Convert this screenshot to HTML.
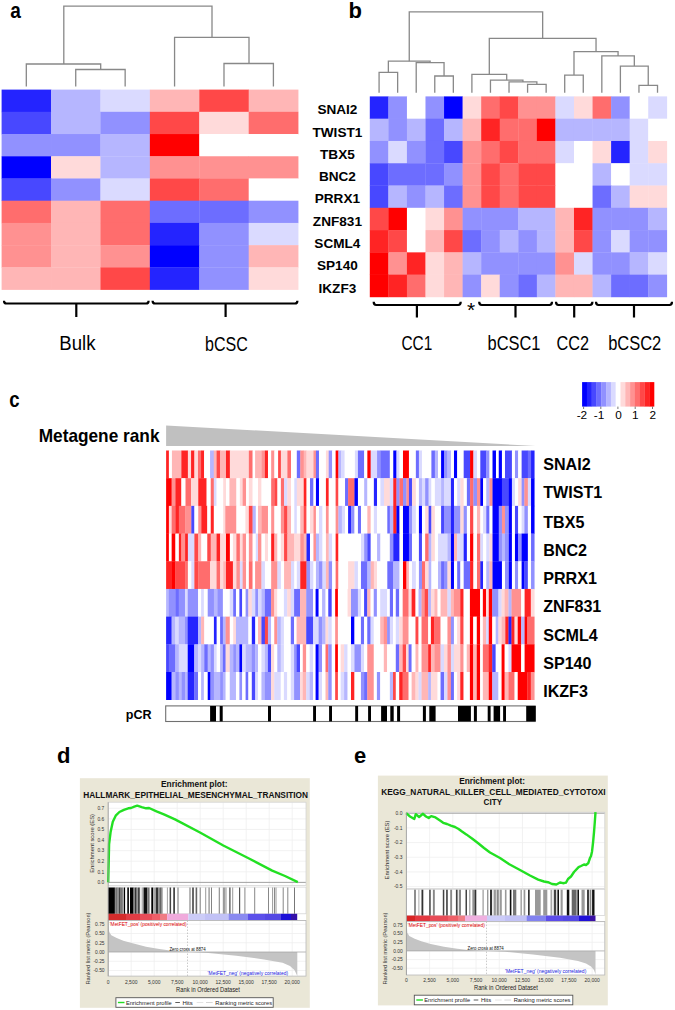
<!DOCTYPE html>
<html><head><meta charset="utf-8"><title>Figure</title>
<style>html,body{margin:0;padding:0;background:#fff;}body{width:675px;height:1010px;overflow:hidden;}svg{display:block;}</style>
</head><body>
<svg width="675" height="1010" viewBox="0 0 675 1010" shape-rendering="auto">
<rect x="0" y="0" width="675" height="1010" fill="#fff"/>
<text x="10.3" y="17.5" font-family="Liberation Sans, sans-serif" font-size="22" font-weight="bold" text-anchor="start" fill="#000" textLength="10.6" lengthAdjust="spacingAndGlyphs">a</text>
<text x="348.6" y="17.6" font-family="Liberation Sans, sans-serif" font-size="22" font-weight="bold" text-anchor="start" fill="#000">b</text>
<text x="9.3" y="406.6" font-family="Liberation Sans, sans-serif" font-size="22" font-weight="bold" text-anchor="start" fill="#000" textLength="10.3" lengthAdjust="spacingAndGlyphs">c</text>
<text x="57" y="763.1" font-family="Liberation Sans, sans-serif" font-size="22" font-weight="bold" text-anchor="start" fill="#000">d</text>
<text x="354" y="762.8" font-family="Liberation Sans, sans-serif" font-size="22" font-weight="bold" text-anchor="start" fill="#000">e</text>
<rect x="1.6" y="89.6" width="49.72" height="22.52" fill="#2424ff"/>
<rect x="51.02" y="89.6" width="49.72" height="22.52" fill="#b6b6ff"/>
<rect x="100.44" y="89.6" width="49.72" height="22.52" fill="#dadaff"/>
<rect x="149.86" y="89.6" width="49.72" height="22.52" fill="#ffb6b6"/>
<rect x="199.28" y="89.6" width="49.72" height="22.52" fill="#ff4848"/>
<rect x="248.7" y="89.6" width="49.72" height="22.52" fill="#ffb6b6"/>
<rect x="1.6" y="111.82" width="49.72" height="22.52" fill="#4848ff"/>
<rect x="51.02" y="111.82" width="49.72" height="22.52" fill="#b6b6ff"/>
<rect x="100.44" y="111.82" width="49.72" height="22.52" fill="#9191ff"/>
<rect x="149.86" y="111.82" width="49.72" height="22.52" fill="#ff4848"/>
<rect x="199.28" y="111.82" width="49.72" height="22.52" fill="#ffdada"/>
<rect x="248.7" y="111.82" width="49.72" height="22.52" fill="#ff6d6d"/>
<rect x="1.6" y="134.04" width="49.72" height="22.52" fill="#9191ff"/>
<rect x="51.02" y="134.04" width="49.72" height="22.52" fill="#9191ff"/>
<rect x="100.44" y="134.04" width="49.72" height="22.52" fill="#b6b6ff"/>
<rect x="149.86" y="134.04" width="49.72" height="22.52" fill="#ff0000"/>
<rect x="199.28" y="134.04" width="49.72" height="22.52" fill="#ffffff"/>
<rect x="248.7" y="134.04" width="49.72" height="22.52" fill="#ffffff"/>
<rect x="1.6" y="156.26" width="49.72" height="22.52" fill="#0000ff"/>
<rect x="51.02" y="156.26" width="49.72" height="22.52" fill="#ffdada"/>
<rect x="100.44" y="156.26" width="49.72" height="22.52" fill="#b6b6ff"/>
<rect x="149.86" y="156.26" width="49.72" height="22.52" fill="#ff9191"/>
<rect x="199.28" y="156.26" width="49.72" height="22.52" fill="#ff9191"/>
<rect x="248.7" y="156.26" width="49.72" height="22.52" fill="#ff9191"/>
<rect x="1.6" y="178.48" width="49.72" height="22.52" fill="#4848ff"/>
<rect x="51.02" y="178.48" width="49.72" height="22.52" fill="#9191ff"/>
<rect x="100.44" y="178.48" width="49.72" height="22.52" fill="#dadaff"/>
<rect x="149.86" y="178.48" width="49.72" height="22.52" fill="#ff4848"/>
<rect x="199.28" y="178.48" width="49.72" height="22.52" fill="#ff6d6d"/>
<rect x="248.7" y="178.48" width="49.72" height="22.52" fill="#ffffff"/>
<rect x="1.6" y="200.7" width="49.72" height="22.52" fill="#ff6d6d"/>
<rect x="51.02" y="200.7" width="49.72" height="22.52" fill="#ffb6b6"/>
<rect x="100.44" y="200.7" width="49.72" height="22.52" fill="#ff6d6d"/>
<rect x="149.86" y="200.7" width="49.72" height="22.52" fill="#6d6dff"/>
<rect x="199.28" y="200.7" width="49.72" height="22.52" fill="#6d6dff"/>
<rect x="248.7" y="200.7" width="49.72" height="22.52" fill="#9191ff"/>
<rect x="1.6" y="222.92" width="49.72" height="22.52" fill="#ff9191"/>
<rect x="51.02" y="222.92" width="49.72" height="22.52" fill="#ffb6b6"/>
<rect x="100.44" y="222.92" width="49.72" height="22.52" fill="#ff6d6d"/>
<rect x="149.86" y="222.92" width="49.72" height="22.52" fill="#2424ff"/>
<rect x="199.28" y="222.92" width="49.72" height="22.52" fill="#9191ff"/>
<rect x="248.7" y="222.92" width="49.72" height="22.52" fill="#dadaff"/>
<rect x="1.6" y="245.14" width="49.72" height="22.52" fill="#ff9191"/>
<rect x="51.02" y="245.14" width="49.72" height="22.52" fill="#ffb6b6"/>
<rect x="100.44" y="245.14" width="49.72" height="22.52" fill="#ff9191"/>
<rect x="149.86" y="245.14" width="49.72" height="22.52" fill="#0000ff"/>
<rect x="199.28" y="245.14" width="49.72" height="22.52" fill="#9191ff"/>
<rect x="248.7" y="245.14" width="49.72" height="22.52" fill="#ffb6b6"/>
<rect x="1.6" y="267.36" width="49.72" height="22.52" fill="#ffb6b6"/>
<rect x="51.02" y="267.36" width="49.72" height="22.52" fill="#ffb6b6"/>
<rect x="100.44" y="267.36" width="49.72" height="22.52" fill="#ff4848"/>
<rect x="149.86" y="267.36" width="49.72" height="22.52" fill="#2424ff"/>
<rect x="199.28" y="267.36" width="49.72" height="22.52" fill="#9191ff"/>
<rect x="248.7" y="267.36" width="49.72" height="22.52" fill="#ffdada"/>
<polyline points="26.31,86.5 26.31,64 100.7,64 100.7,69.5" fill="none" stroke="#888888" stroke-width="1.3"/>
<polyline points="75.73,86.5 75.73,69.5 125.15,69.5 125.15,86.5" fill="none" stroke="#888888" stroke-width="1.3"/>
<polyline points="63.8,64 63.8,6.1 212,6.1 212,37.3" fill="none" stroke="#888888" stroke-width="1.3"/>
<polyline points="174.57,86.5 174.57,37.3 249,37.3 249,63.5" fill="none" stroke="#888888" stroke-width="1.3"/>
<polyline points="223.99,86.5 223.99,63.5 273.41,63.5 273.41,86.5" fill="none" stroke="#888888" stroke-width="1.3"/>
<path d="M4 300.7 Q4 303.5 6.5 303.5 L146.1 303.5 Q148.6 303.5 148.6 300.7 M76.3 303.5 L76.3 317" fill="none" stroke="#000" stroke-width="2.2"/>
<path d="M152.6 300.7 Q152.6 303.5 155.1 303.5 L294.9 303.5 Q297.4 303.5 297.4 300.7 M225.6 303.5 L225.6 317" fill="none" stroke="#000" stroke-width="2.2"/>
<text x="59.3" y="350.4" font-family="Liberation Sans, sans-serif" font-size="19.5" font-weight="normal" text-anchor="start" fill="#000" textLength="36.2" lengthAdjust="spacingAndGlyphs">Bulk</text>
<text x="205" y="350.5" font-family="Liberation Sans, sans-serif" font-size="19.5" font-weight="normal" text-anchor="start" fill="#000" textLength="42.8" lengthAdjust="spacingAndGlyphs">bCSC</text>
<rect x="369.8" y="96.4" width="18.86" height="22.58" fill="#2424ff"/>
<rect x="388.36" y="96.4" width="18.86" height="22.58" fill="#9191ff"/>
<rect x="406.93" y="96.4" width="18.86" height="22.58" fill="#ffffff"/>
<rect x="425.49" y="96.4" width="18.86" height="22.58" fill="#9191ff"/>
<rect x="444.05" y="96.4" width="18.86" height="22.58" fill="#0000ff"/>
<rect x="462.61" y="96.4" width="18.86" height="22.58" fill="#ffdada"/>
<rect x="481.18" y="96.4" width="18.86" height="22.58" fill="#ff6d6d"/>
<rect x="499.74" y="96.4" width="18.86" height="22.58" fill="#ff4848"/>
<rect x="518.3" y="96.4" width="18.86" height="22.58" fill="#ff9191"/>
<rect x="536.86" y="96.4" width="18.86" height="22.58" fill="#ff9191"/>
<rect x="555.42" y="96.4" width="18.86" height="22.58" fill="#dadaff"/>
<rect x="573.99" y="96.4" width="18.86" height="22.58" fill="#ffdada"/>
<rect x="592.55" y="96.4" width="18.86" height="22.58" fill="#ff6d6d"/>
<rect x="611.11" y="96.4" width="18.86" height="22.58" fill="#9191ff"/>
<rect x="629.67" y="96.4" width="18.86" height="22.58" fill="#ffffff"/>
<rect x="648.24" y="96.4" width="18.86" height="22.58" fill="#dadaff"/>
<rect x="369.8" y="118.68" width="18.86" height="22.58" fill="#b6b6ff"/>
<rect x="388.36" y="118.68" width="18.86" height="22.58" fill="#9191ff"/>
<rect x="406.93" y="118.68" width="18.86" height="22.58" fill="#b6b6ff"/>
<rect x="425.49" y="118.68" width="18.86" height="22.58" fill="#6d6dff"/>
<rect x="444.05" y="118.68" width="18.86" height="22.58" fill="#b6b6ff"/>
<rect x="462.61" y="118.68" width="18.86" height="22.58" fill="#ffb6b6"/>
<rect x="481.18" y="118.68" width="18.86" height="22.58" fill="#ff2424"/>
<rect x="499.74" y="118.68" width="18.86" height="22.58" fill="#ff6d6d"/>
<rect x="518.3" y="118.68" width="18.86" height="22.58" fill="#ff6d6d"/>
<rect x="536.86" y="118.68" width="18.86" height="22.58" fill="#ff0000"/>
<rect x="555.42" y="118.68" width="18.86" height="22.58" fill="#b6b6ff"/>
<rect x="573.99" y="118.68" width="18.86" height="22.58" fill="#b6b6ff"/>
<rect x="592.55" y="118.68" width="18.86" height="22.58" fill="#b6b6ff"/>
<rect x="611.11" y="118.68" width="18.86" height="22.58" fill="#b6b6ff"/>
<rect x="629.67" y="118.68" width="18.86" height="22.58" fill="#dadaff"/>
<rect x="648.24" y="118.68" width="18.86" height="22.58" fill="#ffffff"/>
<rect x="369.8" y="140.96" width="18.86" height="22.58" fill="#9191ff"/>
<rect x="388.36" y="140.96" width="18.86" height="22.58" fill="#dadaff"/>
<rect x="406.93" y="140.96" width="18.86" height="22.58" fill="#9191ff"/>
<rect x="425.49" y="140.96" width="18.86" height="22.58" fill="#6d6dff"/>
<rect x="444.05" y="140.96" width="18.86" height="22.58" fill="#4848ff"/>
<rect x="462.61" y="140.96" width="18.86" height="22.58" fill="#ff9191"/>
<rect x="481.18" y="140.96" width="18.86" height="22.58" fill="#ff6d6d"/>
<rect x="499.74" y="140.96" width="18.86" height="22.58" fill="#ff4848"/>
<rect x="518.3" y="140.96" width="18.86" height="22.58" fill="#ff6d6d"/>
<rect x="536.86" y="140.96" width="18.86" height="22.58" fill="#ff6d6d"/>
<rect x="555.42" y="140.96" width="18.86" height="22.58" fill="#dadaff"/>
<rect x="573.99" y="140.96" width="18.86" height="22.58" fill="#ffffff"/>
<rect x="592.55" y="140.96" width="18.86" height="22.58" fill="#ffdada"/>
<rect x="611.11" y="140.96" width="18.86" height="22.58" fill="#2424ff"/>
<rect x="629.67" y="140.96" width="18.86" height="22.58" fill="#dadaff"/>
<rect x="648.24" y="140.96" width="18.86" height="22.58" fill="#ffdada"/>
<rect x="369.8" y="163.24" width="18.86" height="22.58" fill="#4848ff"/>
<rect x="388.36" y="163.24" width="18.86" height="22.58" fill="#6d6dff"/>
<rect x="406.93" y="163.24" width="18.86" height="22.58" fill="#6d6dff"/>
<rect x="425.49" y="163.24" width="18.86" height="22.58" fill="#6d6dff"/>
<rect x="444.05" y="163.24" width="18.86" height="22.58" fill="#9191ff"/>
<rect x="462.61" y="163.24" width="18.86" height="22.58" fill="#ff9191"/>
<rect x="481.18" y="163.24" width="18.86" height="22.58" fill="#ff4848"/>
<rect x="499.74" y="163.24" width="18.86" height="22.58" fill="#ff6d6d"/>
<rect x="518.3" y="163.24" width="18.86" height="22.58" fill="#ff4848"/>
<rect x="536.86" y="163.24" width="18.86" height="22.58" fill="#ff4848"/>
<rect x="555.42" y="163.24" width="18.86" height="22.58" fill="#ffffff"/>
<rect x="573.99" y="163.24" width="18.86" height="22.58" fill="#ffffff"/>
<rect x="592.55" y="163.24" width="18.86" height="22.58" fill="#b6b6ff"/>
<rect x="611.11" y="163.24" width="18.86" height="22.58" fill="#ffffff"/>
<rect x="629.67" y="163.24" width="18.86" height="22.58" fill="#dadaff"/>
<rect x="648.24" y="163.24" width="18.86" height="22.58" fill="#dadaff"/>
<rect x="369.8" y="185.52" width="18.86" height="22.58" fill="#4848ff"/>
<rect x="388.36" y="185.52" width="18.86" height="22.58" fill="#b6b6ff"/>
<rect x="406.93" y="185.52" width="18.86" height="22.58" fill="#9191ff"/>
<rect x="425.49" y="185.52" width="18.86" height="22.58" fill="#b6b6ff"/>
<rect x="444.05" y="185.52" width="18.86" height="22.58" fill="#6d6dff"/>
<rect x="462.61" y="185.52" width="18.86" height="22.58" fill="#ff9191"/>
<rect x="481.18" y="185.52" width="18.86" height="22.58" fill="#ff4848"/>
<rect x="499.74" y="185.52" width="18.86" height="22.58" fill="#ff6d6d"/>
<rect x="518.3" y="185.52" width="18.86" height="22.58" fill="#ff4848"/>
<rect x="536.86" y="185.52" width="18.86" height="22.58" fill="#ff4848"/>
<rect x="555.42" y="185.52" width="18.86" height="22.58" fill="#ffffff"/>
<rect x="573.99" y="185.52" width="18.86" height="22.58" fill="#ffffff"/>
<rect x="592.55" y="185.52" width="18.86" height="22.58" fill="#6d6dff"/>
<rect x="611.11" y="185.52" width="18.86" height="22.58" fill="#b6b6ff"/>
<rect x="629.67" y="185.52" width="18.86" height="22.58" fill="#ffdada"/>
<rect x="648.24" y="185.52" width="18.86" height="22.58" fill="#ffdada"/>
<rect x="369.8" y="207.8" width="18.86" height="22.58" fill="#ff4848"/>
<rect x="388.36" y="207.8" width="18.86" height="22.58" fill="#ff0000"/>
<rect x="406.93" y="207.8" width="18.86" height="22.58" fill="#ffffff"/>
<rect x="425.49" y="207.8" width="18.86" height="22.58" fill="#ffdada"/>
<rect x="444.05" y="207.8" width="18.86" height="22.58" fill="#ff9191"/>
<rect x="462.61" y="207.8" width="18.86" height="22.58" fill="#9191ff"/>
<rect x="481.18" y="207.8" width="18.86" height="22.58" fill="#9191ff"/>
<rect x="499.74" y="207.8" width="18.86" height="22.58" fill="#9191ff"/>
<rect x="518.3" y="207.8" width="18.86" height="22.58" fill="#b6b6ff"/>
<rect x="536.86" y="207.8" width="18.86" height="22.58" fill="#b6b6ff"/>
<rect x="555.42" y="207.8" width="18.86" height="22.58" fill="#ffb6b6"/>
<rect x="573.99" y="207.8" width="18.86" height="22.58" fill="#ff2424"/>
<rect x="592.55" y="207.8" width="18.86" height="22.58" fill="#9191ff"/>
<rect x="611.11" y="207.8" width="18.86" height="22.58" fill="#9191ff"/>
<rect x="629.67" y="207.8" width="18.86" height="22.58" fill="#9191ff"/>
<rect x="648.24" y="207.8" width="18.86" height="22.58" fill="#b6b6ff"/>
<rect x="369.8" y="230.08" width="18.86" height="22.58" fill="#ff2424"/>
<rect x="388.36" y="230.08" width="18.86" height="22.58" fill="#ff4848"/>
<rect x="406.93" y="230.08" width="18.86" height="22.58" fill="#ffffff"/>
<rect x="425.49" y="230.08" width="18.86" height="22.58" fill="#ffb6b6"/>
<rect x="444.05" y="230.08" width="18.86" height="22.58" fill="#ff4848"/>
<rect x="462.61" y="230.08" width="18.86" height="22.58" fill="#6d6dff"/>
<rect x="481.18" y="230.08" width="18.86" height="22.58" fill="#9191ff"/>
<rect x="499.74" y="230.08" width="18.86" height="22.58" fill="#b6b6ff"/>
<rect x="518.3" y="230.08" width="18.86" height="22.58" fill="#9191ff"/>
<rect x="536.86" y="230.08" width="18.86" height="22.58" fill="#b6b6ff"/>
<rect x="555.42" y="230.08" width="18.86" height="22.58" fill="#ffb6b6"/>
<rect x="573.99" y="230.08" width="18.86" height="22.58" fill="#ff4848"/>
<rect x="592.55" y="230.08" width="18.86" height="22.58" fill="#9191ff"/>
<rect x="611.11" y="230.08" width="18.86" height="22.58" fill="#dadaff"/>
<rect x="629.67" y="230.08" width="18.86" height="22.58" fill="#9191ff"/>
<rect x="648.24" y="230.08" width="18.86" height="22.58" fill="#9191ff"/>
<rect x="369.8" y="252.36" width="18.86" height="22.58" fill="#ff0000"/>
<rect x="388.36" y="252.36" width="18.86" height="22.58" fill="#ff9191"/>
<rect x="406.93" y="252.36" width="18.86" height="22.58" fill="#ff2424"/>
<rect x="425.49" y="252.36" width="18.86" height="22.58" fill="#ffdada"/>
<rect x="444.05" y="252.36" width="18.86" height="22.58" fill="#ffb6b6"/>
<rect x="462.61" y="252.36" width="18.86" height="22.58" fill="#b6b6ff"/>
<rect x="481.18" y="252.36" width="18.86" height="22.58" fill="#9191ff"/>
<rect x="499.74" y="252.36" width="18.86" height="22.58" fill="#9191ff"/>
<rect x="518.3" y="252.36" width="18.86" height="22.58" fill="#9191ff"/>
<rect x="536.86" y="252.36" width="18.86" height="22.58" fill="#9191ff"/>
<rect x="555.42" y="252.36" width="18.86" height="22.58" fill="#ff9191"/>
<rect x="573.99" y="252.36" width="18.86" height="22.58" fill="#dadaff"/>
<rect x="592.55" y="252.36" width="18.86" height="22.58" fill="#9191ff"/>
<rect x="611.11" y="252.36" width="18.86" height="22.58" fill="#9191ff"/>
<rect x="629.67" y="252.36" width="18.86" height="22.58" fill="#b6b6ff"/>
<rect x="648.24" y="252.36" width="18.86" height="22.58" fill="#dadaff"/>
<rect x="369.8" y="274.64" width="18.86" height="22.58" fill="#ff0000"/>
<rect x="388.36" y="274.64" width="18.86" height="22.58" fill="#ff2424"/>
<rect x="406.93" y="274.64" width="18.86" height="22.58" fill="#ff6d6d"/>
<rect x="425.49" y="274.64" width="18.86" height="22.58" fill="#ffdada"/>
<rect x="444.05" y="274.64" width="18.86" height="22.58" fill="#ffb6b6"/>
<rect x="462.61" y="274.64" width="18.86" height="22.58" fill="#9191ff"/>
<rect x="481.18" y="274.64" width="18.86" height="22.58" fill="#ffdada"/>
<rect x="499.74" y="274.64" width="18.86" height="22.58" fill="#9191ff"/>
<rect x="518.3" y="274.64" width="18.86" height="22.58" fill="#6d6dff"/>
<rect x="536.86" y="274.64" width="18.86" height="22.58" fill="#b6b6ff"/>
<rect x="555.42" y="274.64" width="18.86" height="22.58" fill="#ffb6b6"/>
<rect x="573.99" y="274.64" width="18.86" height="22.58" fill="#ffb6b6"/>
<rect x="592.55" y="274.64" width="18.86" height="22.58" fill="#b6b6ff"/>
<rect x="611.11" y="274.64" width="18.86" height="22.58" fill="#6d6dff"/>
<rect x="629.67" y="274.64" width="18.86" height="22.58" fill="#6d6dff"/>
<rect x="648.24" y="274.64" width="18.86" height="22.58" fill="#9191ff"/>
<polyline points="379.08,92.7 379.08,72.3 397.64,72.3 397.64,92.7" fill="none" stroke="#888888" stroke-width="1.3"/>
<polyline points="434.77,92.7 434.77,76 453.33,76 453.33,92.7" fill="none" stroke="#888888" stroke-width="1.3"/>
<polyline points="416.21,92.7 416.21,62.7 444.05,62.7 444.05,76" fill="none" stroke="#888888" stroke-width="1.3"/>
<polyline points="388.36,72.3 388.36,61.2 430.13,61.2 430.13,62.7" fill="none" stroke="#888888" stroke-width="1.3"/>
<polyline points="527.58,92.7 527.58,84.4 546.14,84.4 546.14,92.7" fill="none" stroke="#888888" stroke-width="1.3"/>
<polyline points="509.02,92.7 509.02,81.9 536.86,81.9 536.86,84.4" fill="none" stroke="#888888" stroke-width="1.3"/>
<polyline points="490.46,92.7 490.46,80.1 522.94,80.1 522.94,81.9" fill="none" stroke="#888888" stroke-width="1.3"/>
<polyline points="471.89,92.7 471.89,74.3 506.7,74.3 506.7,80.1" fill="none" stroke="#888888" stroke-width="1.3"/>
<polyline points="564.71,92.7 564.71,75.1 583.27,75.1 583.27,92.7" fill="none" stroke="#888888" stroke-width="1.3"/>
<polyline points="638.96,92.7 638.96,85.4 657.52,85.4 657.52,92.7" fill="none" stroke="#888888" stroke-width="1.3"/>
<polyline points="620.39,92.7 620.39,66.1 648.24,66.1 648.24,85.4" fill="none" stroke="#888888" stroke-width="1.3"/>
<polyline points="601.83,92.7 601.83,55.9 634.32,55.9 634.32,66.1" fill="none" stroke="#888888" stroke-width="1.3"/>
<polyline points="573.99,75.1 573.99,51.6 618.07,51.6 618.07,55.9" fill="none" stroke="#888888" stroke-width="1.3"/>
<polyline points="489.3,74.3 489.3,38.3 596.03,38.3 596.03,51.6" fill="none" stroke="#888888" stroke-width="1.3"/>
<polyline points="409.25,61.2 409.25,11.8 542.66,11.8 542.66,38.3" fill="none" stroke="#888888" stroke-width="1.3"/>
<text x="337.4" y="114.3" font-family="Liberation Sans, sans-serif" font-size="13.6" font-weight="bold" text-anchor="middle" fill="#000">SNAI2</text>
<text x="337.4" y="136.58" font-family="Liberation Sans, sans-serif" font-size="13.6" font-weight="bold" text-anchor="middle" fill="#000">TWIST1</text>
<text x="337.4" y="158.86" font-family="Liberation Sans, sans-serif" font-size="13.6" font-weight="bold" text-anchor="middle" fill="#000">TBX5</text>
<text x="337.4" y="181.14" font-family="Liberation Sans, sans-serif" font-size="13.6" font-weight="bold" text-anchor="middle" fill="#000">BNC2</text>
<text x="337.4" y="203.42" font-family="Liberation Sans, sans-serif" font-size="13.6" font-weight="bold" text-anchor="middle" fill="#000">PRRX1</text>
<text x="337.4" y="225.7" font-family="Liberation Sans, sans-serif" font-size="13.6" font-weight="bold" text-anchor="middle" fill="#000">ZNF831</text>
<text x="337.4" y="247.98" font-family="Liberation Sans, sans-serif" font-size="13.6" font-weight="bold" text-anchor="middle" fill="#000">SCML4</text>
<text x="337.4" y="270.26" font-family="Liberation Sans, sans-serif" font-size="13.6" font-weight="bold" text-anchor="middle" fill="#000">SP140</text>
<text x="337.4" y="292.54" font-family="Liberation Sans, sans-serif" font-size="13.6" font-weight="bold" text-anchor="middle" fill="#000">IKZF3</text>
<path d="M373.7 301.8 Q373.7 305 376.2 305 L458.2 305 Q460.7 305 460.7 301.8 M416.9 305 L416.9 317.5" fill="none" stroke="#000" stroke-width="2.2"/>
<path d="M479.2 301.8 Q479.2 305 481.7 305 L549.5 305 Q552 305 552 301.8 M515.5 305 L515.5 317.5" fill="none" stroke="#000" stroke-width="2.2"/>
<path d="M556 301.8 Q556 305 558.5 305 L589.9 305 Q592.4 305 592.4 301.8 M574.2 305 L574.2 317.5" fill="none" stroke="#000" stroke-width="2.2"/>
<path d="M596 301.8 Q596 305 598.5 305 L669.5 305 Q672 305 672 301.8 M634 305 L634 317.5" fill="none" stroke="#000" stroke-width="2.2"/>
<text x="467" y="316.6" font-family="Liberation Sans, sans-serif" font-size="21" font-weight="normal" text-anchor="start" fill="#000">*</text>
<text x="401.5" y="350" font-family="Liberation Sans, sans-serif" font-size="19.5" font-weight="normal" text-anchor="start" fill="#000" textLength="30.8" lengthAdjust="spacingAndGlyphs">CC1</text>
<text x="487.6" y="349.6" font-family="Liberation Sans, sans-serif" font-size="19.5" font-weight="normal" text-anchor="start" fill="#000" textLength="52.9" lengthAdjust="spacingAndGlyphs">bCSC1</text>
<text x="556.5" y="349.6" font-family="Liberation Sans, sans-serif" font-size="19.5" font-weight="normal" text-anchor="start" fill="#000" textLength="32.5" lengthAdjust="spacingAndGlyphs">CC2</text>
<text x="608.2" y="349.6" font-family="Liberation Sans, sans-serif" font-size="19.5" font-weight="normal" text-anchor="start" fill="#000" textLength="53.1" lengthAdjust="spacingAndGlyphs">bCSC2</text>
<rect x="582.1" y="382.1" width="5" height="24.5" fill="#0000ff"/>
<rect x="586.9" y="382.1" width="5" height="24.5" fill="#2424ff"/>
<rect x="591.7" y="382.1" width="5" height="24.5" fill="#4848ff"/>
<rect x="596.5" y="382.1" width="5" height="24.5" fill="#6d6dff"/>
<rect x="601.3" y="382.1" width="5" height="24.5" fill="#9191ff"/>
<rect x="606.1" y="382.1" width="5" height="24.5" fill="#b6b6ff"/>
<rect x="610.9" y="382.1" width="5" height="24.5" fill="#dadaff"/>
<rect x="615.7" y="382.1" width="5" height="24.5" fill="#ffffff"/>
<rect x="620.5" y="382.1" width="5" height="24.5" fill="#ffdada"/>
<rect x="625.3" y="382.1" width="5" height="24.5" fill="#ffb6b6"/>
<rect x="630.1" y="382.1" width="5" height="24.5" fill="#ff9191"/>
<rect x="634.9" y="382.1" width="5" height="24.5" fill="#ff6d6d"/>
<rect x="639.7" y="382.1" width="5" height="24.5" fill="#ff4848"/>
<rect x="644.5" y="382.1" width="5" height="24.5" fill="#ff2424"/>
<rect x="649.3" y="382.1" width="5" height="24.5" fill="#ff0000"/>
<line x1="583.6" y1="406.6" x2="583.6" y2="409" stroke="#555" stroke-width="0.8"/>
<line x1="600.8" y1="406.6" x2="600.8" y2="409" stroke="#555" stroke-width="0.8"/>
<line x1="617.9" y1="406.6" x2="617.9" y2="409" stroke="#555" stroke-width="0.8"/>
<line x1="635.2" y1="406.6" x2="635.2" y2="409" stroke="#555" stroke-width="0.8"/>
<line x1="652.5" y1="406.6" x2="652.5" y2="409" stroke="#555" stroke-width="0.8"/>
<text x="581.9" y="419.4" font-family="Liberation Sans, sans-serif" font-size="11.8" font-weight="normal" text-anchor="middle" fill="#000">-2</text>
<text x="599.1" y="419.4" font-family="Liberation Sans, sans-serif" font-size="11.8" font-weight="normal" text-anchor="middle" fill="#000">-1</text>
<text x="618.6" y="419.4" font-family="Liberation Sans, sans-serif" font-size="11.8" font-weight="normal" text-anchor="middle" fill="#000">0</text>
<text x="635.2" y="419.4" font-family="Liberation Sans, sans-serif" font-size="11.8" font-weight="normal" text-anchor="middle" fill="#000">1</text>
<text x="652.8" y="419.4" font-family="Liberation Sans, sans-serif" font-size="11.8" font-weight="normal" text-anchor="middle" fill="#000">2</text>
<polygon points="166.1,425.4 535.6,446 166.1,446" fill="#c0c0c0"/>
<text x="38.7" y="441.5" font-family="Liberation Sans, sans-serif" font-size="18.2" font-weight="bold" text-anchor="start" fill="#000" textLength="120.8" lengthAdjust="spacingAndGlyphs">Metagene rank</text>
<rect x="166.11" y="450.5" width="3.02" height="27.99" fill="#ff2424"/>
<rect x="168.88" y="450.5" width="3.3" height="27.99" fill="#ffffff"/>
<rect x="171.93" y="450.5" width="9.67" height="27.99" fill="#ffb6b6"/>
<rect x="181.35" y="450.5" width="6.76" height="27.99" fill="#ff2424"/>
<rect x="187.87" y="450.5" width="3.44" height="27.99" fill="#ffdada"/>
<rect x="191.06" y="450.5" width="3.58" height="27.99" fill="#ff2424"/>
<rect x="194.38" y="450.5" width="3.85" height="27.99" fill="#ffdada"/>
<rect x="197.99" y="450.5" width="3.3" height="27.99" fill="#ff6d6d"/>
<rect x="201.04" y="450.5" width="3.3" height="27.99" fill="#ff2424"/>
<rect x="204.09" y="450.5" width="6.21" height="27.99" fill="#ffffff"/>
<rect x="210.05" y="450.5" width="3.99" height="27.99" fill="#b6b6ff"/>
<rect x="213.79" y="450.5" width="3.02" height="27.99" fill="#ffb6b6"/>
<rect x="216.56" y="450.5" width="3.85" height="27.99" fill="#ff4848"/>
<rect x="220.16" y="450.5" width="6.07" height="27.99" fill="#ffb6b6"/>
<rect x="225.98" y="450.5" width="4.13" height="27.99" fill="#ff2424"/>
<rect x="229.86" y="450.5" width="19.24" height="27.99" fill="#ffdada"/>
<rect x="248.85" y="450.5" width="3.99" height="27.99" fill="#ff6d6d"/>
<rect x="252.6" y="450.5" width="2.74" height="27.99" fill="#ffffff"/>
<rect x="255.09" y="450.5" width="3.16" height="27.99" fill="#ffb6b6"/>
<rect x="166.11" y="478.19" width="5.79" height="27.99" fill="#ff0000"/>
<rect x="171.65" y="478.19" width="3.99" height="27.99" fill="#ff9191"/>
<rect x="175.4" y="478.19" width="6.21" height="27.99" fill="#ff2424"/>
<rect x="181.35" y="478.19" width="4.41" height="27.99" fill="#ffffff"/>
<rect x="185.51" y="478.19" width="5.79" height="27.99" fill="#ff6d6d"/>
<rect x="191.06" y="478.19" width="7.46" height="27.99" fill="#ffdada"/>
<rect x="198.26" y="478.19" width="8.57" height="27.99" fill="#ff2424"/>
<rect x="206.58" y="478.19" width="4.41" height="27.99" fill="#ffffff"/>
<rect x="210.74" y="478.19" width="3.3" height="27.99" fill="#ff6d6d"/>
<rect x="213.79" y="478.19" width="3.02" height="27.99" fill="#dadaff"/>
<rect x="216.56" y="478.19" width="6.9" height="27.99" fill="#ffffff"/>
<rect x="223.21" y="478.19" width="3.02" height="27.99" fill="#ffdada"/>
<rect x="225.98" y="478.19" width="3.72" height="27.99" fill="#ffffff"/>
<rect x="229.45" y="478.19" width="7.18" height="27.99" fill="#ffb6b6"/>
<rect x="236.38" y="478.19" width="3.72" height="27.99" fill="#ffffff"/>
<rect x="239.84" y="478.19" width="3.02" height="27.99" fill="#ffdada"/>
<rect x="242.62" y="478.19" width="3.72" height="27.99" fill="#ff9191"/>
<rect x="246.08" y="478.19" width="3.02" height="27.99" fill="#ffffff"/>
<rect x="248.85" y="478.19" width="3.99" height="27.99" fill="#ffdada"/>
<rect x="252.6" y="478.19" width="5.66" height="27.99" fill="#ffffff"/>
<rect x="166.11" y="505.88" width="3.02" height="27.99" fill="#ff0000"/>
<rect x="168.88" y="505.88" width="3.02" height="27.99" fill="#ffdada"/>
<rect x="171.65" y="505.88" width="3.99" height="27.99" fill="#ff6d6d"/>
<rect x="175.4" y="505.88" width="3.72" height="27.99" fill="#ff2424"/>
<rect x="178.86" y="505.88" width="6.49" height="27.99" fill="#ff6d6d"/>
<rect x="185.1" y="505.88" width="6.49" height="27.99" fill="#ff9191"/>
<rect x="191.33" y="505.88" width="3.3" height="27.99" fill="#4848ff"/>
<rect x="194.38" y="505.88" width="4.13" height="27.99" fill="#ffffff"/>
<rect x="198.26" y="505.88" width="3.3" height="27.99" fill="#ff9191"/>
<rect x="201.31" y="505.88" width="6.21" height="27.99" fill="#ff2424"/>
<rect x="207.27" y="505.88" width="3.72" height="27.99" fill="#ffffff"/>
<rect x="210.74" y="505.88" width="3.3" height="27.99" fill="#ff2424"/>
<rect x="213.79" y="505.88" width="9.67" height="27.99" fill="#ffffff"/>
<rect x="223.21" y="505.88" width="2.33" height="27.99" fill="#ffdada"/>
<rect x="225.29" y="505.88" width="11.34" height="27.99" fill="#ff9191"/>
<rect x="236.38" y="505.88" width="9.26" height="27.99" fill="#ffffff"/>
<rect x="245.39" y="505.88" width="3.72" height="27.99" fill="#ffdada"/>
<rect x="248.85" y="505.88" width="3.99" height="27.99" fill="#ff4848"/>
<rect x="252.6" y="505.88" width="3.44" height="27.99" fill="#b6b6ff"/>
<rect x="255.78" y="505.88" width="2.47" height="27.99" fill="#ffffff"/>
<rect x="166.11" y="533.57" width="3.02" height="27.99" fill="#ff0000"/>
<rect x="168.88" y="533.57" width="3.02" height="27.99" fill="#ffffff"/>
<rect x="171.65" y="533.57" width="3.99" height="27.99" fill="#ff0000"/>
<rect x="175.4" y="533.57" width="3.72" height="27.99" fill="#ffffff"/>
<rect x="178.86" y="533.57" width="2.74" height="27.99" fill="#ff2424"/>
<rect x="181.35" y="533.57" width="3.99" height="27.99" fill="#ff9191"/>
<rect x="185.1" y="533.57" width="3.02" height="27.99" fill="#ff2424"/>
<rect x="187.87" y="533.57" width="6.76" height="27.99" fill="#dadaff"/>
<rect x="194.38" y="533.57" width="4.13" height="27.99" fill="#ff4848"/>
<rect x="198.26" y="533.57" width="3.3" height="27.99" fill="#ffb6b6"/>
<rect x="201.31" y="533.57" width="6.21" height="27.99" fill="#ffffff"/>
<rect x="207.27" y="533.57" width="3.72" height="27.99" fill="#ff4848"/>
<rect x="210.74" y="533.57" width="6.07" height="27.99" fill="#ffb6b6"/>
<rect x="216.56" y="533.57" width="3.85" height="27.99" fill="#ff2424"/>
<rect x="220.16" y="533.57" width="6.07" height="27.99" fill="#ffdada"/>
<rect x="225.98" y="533.57" width="4.13" height="27.99" fill="#ff0000"/>
<rect x="229.86" y="533.57" width="3.3" height="27.99" fill="#ffffff"/>
<rect x="232.91" y="533.57" width="3.72" height="27.99" fill="#ffdada"/>
<rect x="236.38" y="533.57" width="3.72" height="27.99" fill="#ff6d6d"/>
<rect x="239.84" y="533.57" width="3.02" height="27.99" fill="#ffdada"/>
<rect x="242.62" y="533.57" width="3.72" height="27.99" fill="#ff9191"/>
<rect x="246.08" y="533.57" width="3.02" height="27.99" fill="#ffffff"/>
<rect x="248.85" y="533.57" width="3.99" height="27.99" fill="#ff9191"/>
<rect x="252.6" y="533.57" width="3.44" height="27.99" fill="#ffffff"/>
<rect x="255.78" y="533.57" width="2.47" height="27.99" fill="#dadaff"/>
<rect x="166.11" y="561.26" width="5.79" height="27.99" fill="#ff2424"/>
<rect x="171.65" y="561.26" width="3.99" height="27.99" fill="#ff0000"/>
<rect x="175.4" y="561.26" width="9.95" height="27.99" fill="#ff4848"/>
<rect x="185.1" y="561.26" width="3.02" height="27.99" fill="#ff6d6d"/>
<rect x="187.87" y="561.26" width="3.72" height="27.99" fill="#ffffff"/>
<rect x="191.33" y="561.26" width="3.3" height="27.99" fill="#dadaff"/>
<rect x="194.38" y="561.26" width="4.13" height="27.99" fill="#ff4848"/>
<rect x="198.26" y="561.26" width="12.03" height="27.99" fill="#ff6d6d"/>
<rect x="210.05" y="561.26" width="6.76" height="27.99" fill="#ffdada"/>
<rect x="216.56" y="561.26" width="3.85" height="27.99" fill="#ff6d6d"/>
<rect x="220.16" y="561.26" width="3.3" height="27.99" fill="#ffdada"/>
<rect x="223.21" y="561.26" width="3.02" height="27.99" fill="#ffb6b6"/>
<rect x="225.98" y="561.26" width="7.18" height="27.99" fill="#ff2424"/>
<rect x="232.91" y="561.26" width="3.72" height="27.99" fill="#ffdada"/>
<rect x="236.38" y="561.26" width="3.72" height="27.99" fill="#ff9191"/>
<rect x="239.84" y="561.26" width="3.02" height="27.99" fill="#dadaff"/>
<rect x="242.62" y="561.26" width="3.72" height="27.99" fill="#ff9191"/>
<rect x="246.08" y="561.26" width="3.02" height="27.99" fill="#ffffff"/>
<rect x="248.85" y="561.26" width="3.99" height="27.99" fill="#ff6d6d"/>
<rect x="252.6" y="561.26" width="2.74" height="27.99" fill="#ffffff"/>
<rect x="255.09" y="561.26" width="3.16" height="27.99" fill="#ff9191"/>
<rect x="166.1" y="588.94" width="3.01" height="27.99" fill="#b6b6ff"/>
<rect x="168.86" y="588.94" width="6.73" height="27.99" fill="#9191ff"/>
<rect x="175.33" y="588.94" width="3.69" height="27.99" fill="#6d6dff"/>
<rect x="178.78" y="588.94" width="6.45" height="27.99" fill="#9191ff"/>
<rect x="184.98" y="588.94" width="3.01" height="27.99" fill="#dadaff"/>
<rect x="187.73" y="588.94" width="10.58" height="27.99" fill="#9191ff"/>
<rect x="198.07" y="588.94" width="3.28" height="27.99" fill="#ffffff"/>
<rect x="201.1" y="588.94" width="3.01" height="27.99" fill="#dadaff"/>
<rect x="203.85" y="588.94" width="4.11" height="27.99" fill="#ffffff"/>
<rect x="207.71" y="588.94" width="6.45" height="27.99" fill="#9191ff"/>
<rect x="213.91" y="588.94" width="3.69" height="27.99" fill="#b6b6ff"/>
<rect x="217.36" y="588.94" width="5.76" height="27.99" fill="#9191ff"/>
<rect x="222.87" y="588.94" width="7.14" height="27.99" fill="#ffffff"/>
<rect x="229.76" y="588.94" width="3.69" height="27.99" fill="#dadaff"/>
<rect x="233.2" y="588.94" width="3.01" height="27.99" fill="#6d6dff"/>
<rect x="235.96" y="588.94" width="3.69" height="27.99" fill="#ffffff"/>
<rect x="239.4" y="588.94" width="3.01" height="27.99" fill="#4848ff"/>
<rect x="242.16" y="588.94" width="3.69" height="27.99" fill="#ffffff"/>
<rect x="245.6" y="588.94" width="3.01" height="27.99" fill="#9191ff"/>
<rect x="248.36" y="588.94" width="3.69" height="27.99" fill="#ffdada"/>
<rect x="251.8" y="588.94" width="3.69" height="27.99" fill="#dadaff"/>
<rect x="255.25" y="588.94" width="3.01" height="27.99" fill="#9191ff"/>
<rect x="166.1" y="616.63" width="5.76" height="27.99" fill="#2424ff"/>
<rect x="171.61" y="616.63" width="3.97" height="27.99" fill="#b6b6ff"/>
<rect x="175.33" y="616.63" width="3.69" height="27.99" fill="#dadaff"/>
<rect x="178.78" y="616.63" width="6.45" height="27.99" fill="#b6b6ff"/>
<rect x="184.98" y="616.63" width="3.01" height="27.99" fill="#9191ff"/>
<rect x="187.73" y="616.63" width="10.58" height="27.99" fill="#2424ff"/>
<rect x="198.07" y="616.63" width="3.28" height="27.99" fill="#b6b6ff"/>
<rect x="201.1" y="616.63" width="3.42" height="27.99" fill="#ffb6b6"/>
<rect x="204.27" y="616.63" width="9.89" height="27.99" fill="#ffffff"/>
<rect x="213.91" y="616.63" width="3.01" height="27.99" fill="#2424ff"/>
<rect x="216.67" y="616.63" width="3.69" height="27.99" fill="#ffffff"/>
<rect x="220.11" y="616.63" width="3.01" height="27.99" fill="#6d6dff"/>
<rect x="222.87" y="616.63" width="3.01" height="27.99" fill="#b6b6ff"/>
<rect x="225.62" y="616.63" width="4.38" height="27.99" fill="#ff9191"/>
<rect x="229.76" y="616.63" width="3.69" height="27.99" fill="#ffffff"/>
<rect x="233.2" y="616.63" width="3.01" height="27.99" fill="#ffdada"/>
<rect x="235.96" y="616.63" width="12.65" height="27.99" fill="#b6b6ff"/>
<rect x="248.36" y="616.63" width="3.69" height="27.99" fill="#ffffff"/>
<rect x="251.8" y="616.63" width="3.69" height="27.99" fill="#2424ff"/>
<rect x="255.25" y="616.63" width="3.01" height="27.99" fill="#ffffff"/>
<rect x="166.1" y="644.32" width="3.01" height="27.99" fill="#4848ff"/>
<rect x="168.86" y="644.32" width="6.73" height="27.99" fill="#6d6dff"/>
<rect x="175.33" y="644.32" width="3.69" height="27.99" fill="#b6b6ff"/>
<rect x="178.78" y="644.32" width="9.21" height="27.99" fill="#dadaff"/>
<rect x="187.73" y="644.32" width="6.73" height="27.99" fill="#0000ff"/>
<rect x="194.21" y="644.32" width="4.11" height="27.99" fill="#b6b6ff"/>
<rect x="198.07" y="644.32" width="3.28" height="27.99" fill="#dadaff"/>
<rect x="201.1" y="644.32" width="3.42" height="27.99" fill="#b6b6ff"/>
<rect x="204.27" y="644.32" width="3.69" height="27.99" fill="#6d6dff"/>
<rect x="207.71" y="644.32" width="3.01" height="27.99" fill="#b6b6ff"/>
<rect x="210.47" y="644.32" width="3.69" height="27.99" fill="#9191ff"/>
<rect x="213.91" y="644.32" width="3.01" height="27.99" fill="#dadaff"/>
<rect x="216.67" y="644.32" width="3.69" height="27.99" fill="#ffffff"/>
<rect x="220.11" y="644.32" width="3.01" height="27.99" fill="#b6b6ff"/>
<rect x="222.87" y="644.32" width="3.01" height="27.99" fill="#6d6dff"/>
<rect x="225.62" y="644.32" width="4.38" height="27.99" fill="#ffdada"/>
<rect x="229.76" y="644.32" width="3.69" height="27.99" fill="#b6b6ff"/>
<rect x="233.2" y="644.32" width="3.01" height="27.99" fill="#9191ff"/>
<rect x="235.96" y="644.32" width="3.69" height="27.99" fill="#b6b6ff"/>
<rect x="239.4" y="644.32" width="3.01" height="27.99" fill="#0000ff"/>
<rect x="242.16" y="644.32" width="3.69" height="27.99" fill="#dadaff"/>
<rect x="245.6" y="644.32" width="6.45" height="27.99" fill="#b6b6ff"/>
<rect x="251.8" y="644.32" width="3.69" height="27.99" fill="#9191ff"/>
<rect x="255.25" y="644.32" width="3.01" height="27.99" fill="#b6b6ff"/>
<rect x="166.1" y="672.01" width="5.76" height="27.99" fill="#0000ff"/>
<rect x="171.61" y="672.01" width="3.97" height="27.99" fill="#b6b6ff"/>
<rect x="175.33" y="672.01" width="3.69" height="27.99" fill="#9191ff"/>
<rect x="178.78" y="672.01" width="3.01" height="27.99" fill="#b6b6ff"/>
<rect x="181.53" y="672.01" width="3.69" height="27.99" fill="#9191ff"/>
<rect x="184.98" y="672.01" width="3.01" height="27.99" fill="#b6b6ff"/>
<rect x="187.73" y="672.01" width="6.73" height="27.99" fill="#2424ff"/>
<rect x="194.21" y="672.01" width="4.11" height="27.99" fill="#6d6dff"/>
<rect x="198.07" y="672.01" width="3.28" height="27.99" fill="#ffffff"/>
<rect x="201.1" y="672.01" width="3.01" height="27.99" fill="#b6b6ff"/>
<rect x="203.85" y="672.01" width="4.11" height="27.99" fill="#ffffff"/>
<rect x="207.71" y="672.01" width="3.01" height="27.99" fill="#0000ff"/>
<rect x="210.47" y="672.01" width="3.69" height="27.99" fill="#9191ff"/>
<rect x="213.91" y="672.01" width="6.45" height="27.99" fill="#b6b6ff"/>
<rect x="220.11" y="672.01" width="3.01" height="27.99" fill="#9191ff"/>
<rect x="222.87" y="672.01" width="3.01" height="27.99" fill="#b6b6ff"/>
<rect x="225.62" y="672.01" width="4.38" height="27.99" fill="#ffffff"/>
<rect x="229.76" y="672.01" width="6.45" height="27.99" fill="#b6b6ff"/>
<rect x="235.96" y="672.01" width="3.69" height="27.99" fill="#ffffff"/>
<rect x="239.4" y="672.01" width="3.01" height="27.99" fill="#9191ff"/>
<rect x="242.16" y="672.01" width="3.69" height="27.99" fill="#ffffff"/>
<rect x="245.6" y="672.01" width="3.01" height="27.99" fill="#6d6dff"/>
<rect x="248.36" y="672.01" width="3.69" height="27.99" fill="#ffffff"/>
<rect x="251.8" y="672.01" width="3.69" height="27.99" fill="#4848ff"/>
<rect x="255.25" y="672.01" width="3.01" height="27.99" fill="#dadaff"/>
<rect x="258" y="450.5" width="3.72" height="27.99" fill="#ffb6b6"/>
<rect x="261.47" y="450.5" width="3.72" height="27.99" fill="#ff9191"/>
<rect x="264.93" y="450.5" width="3.3" height="27.99" fill="#ff2424"/>
<rect x="267.98" y="450.5" width="3.44" height="27.99" fill="#ffffff"/>
<rect x="271.17" y="450.5" width="3.44" height="27.99" fill="#ff9191"/>
<rect x="274.35" y="450.5" width="3.99" height="27.99" fill="#ffffff"/>
<rect x="278.1" y="450.5" width="3.02" height="27.99" fill="#ff4848"/>
<rect x="280.87" y="450.5" width="6.76" height="27.99" fill="#ffdada"/>
<rect x="287.38" y="450.5" width="3.85" height="27.99" fill="#ff6d6d"/>
<rect x="290.99" y="450.5" width="6.07" height="27.99" fill="#ffffff"/>
<rect x="296.81" y="450.5" width="3.72" height="27.99" fill="#6d6dff"/>
<rect x="300.27" y="450.5" width="3.72" height="27.99" fill="#ff9191"/>
<rect x="303.74" y="450.5" width="3.02" height="27.99" fill="#ffb6b6"/>
<rect x="306.51" y="450.5" width="7.18" height="27.99" fill="#ffdada"/>
<rect x="313.44" y="450.5" width="2.74" height="27.99" fill="#ff9191"/>
<rect x="315.93" y="450.5" width="3.3" height="27.99" fill="#6d6dff"/>
<rect x="318.98" y="450.5" width="7.18" height="27.99" fill="#ffffff"/>
<rect x="325.91" y="450.5" width="3.02" height="27.99" fill="#ffdada"/>
<rect x="328.69" y="450.5" width="3.72" height="27.99" fill="#9191ff"/>
<rect x="332.15" y="450.5" width="3.72" height="27.99" fill="#ffffff"/>
<rect x="335.62" y="450.5" width="3.02" height="27.99" fill="#ff0000"/>
<rect x="338.39" y="450.5" width="3.02" height="27.99" fill="#b6b6ff"/>
<rect x="341.16" y="450.5" width="3.72" height="27.99" fill="#dadaff"/>
<rect x="344.63" y="450.5" width="6.63" height="27.99" fill="#ffffff"/>
<rect x="258" y="478.19" width="3.72" height="27.99" fill="#ffdada"/>
<rect x="261.47" y="478.19" width="9.95" height="27.99" fill="#ffffff"/>
<rect x="271.17" y="478.19" width="3.44" height="27.99" fill="#ff6d6d"/>
<rect x="274.35" y="478.19" width="3.3" height="27.99" fill="#ff4848"/>
<rect x="277.4" y="478.19" width="3.72" height="27.99" fill="#ffffff"/>
<rect x="280.87" y="478.19" width="3.44" height="27.99" fill="#ff6d6d"/>
<rect x="284.06" y="478.19" width="3.58" height="27.99" fill="#dadaff"/>
<rect x="287.38" y="478.19" width="3.85" height="27.99" fill="#ffdada"/>
<rect x="290.99" y="478.19" width="3.58" height="27.99" fill="#ffffff"/>
<rect x="294.31" y="478.19" width="2.74" height="27.99" fill="#dadaff"/>
<rect x="296.81" y="478.19" width="7.18" height="27.99" fill="#ffdada"/>
<rect x="303.74" y="478.19" width="3.02" height="27.99" fill="#ff2424"/>
<rect x="306.51" y="478.19" width="3.72" height="27.99" fill="#ffffff"/>
<rect x="309.98" y="478.19" width="3.72" height="27.99" fill="#6d6dff"/>
<rect x="313.44" y="478.19" width="2.74" height="27.99" fill="#ffffff"/>
<rect x="315.93" y="478.19" width="3.3" height="27.99" fill="#0000ff"/>
<rect x="318.98" y="478.19" width="7.18" height="27.99" fill="#ffffff"/>
<rect x="325.91" y="478.19" width="3.02" height="27.99" fill="#ff2424"/>
<rect x="328.69" y="478.19" width="7.18" height="27.99" fill="#ffffff"/>
<rect x="335.62" y="478.19" width="3.02" height="27.99" fill="#ff4848"/>
<rect x="338.39" y="478.19" width="6.9" height="27.99" fill="#ffffff"/>
<rect x="345.04" y="478.19" width="3.3" height="27.99" fill="#6d6dff"/>
<rect x="348.09" y="478.19" width="3.16" height="27.99" fill="#ff6d6d"/>
<rect x="258" y="505.88" width="3.72" height="27.99" fill="#ffb6b6"/>
<rect x="261.47" y="505.88" width="6.76" height="27.99" fill="#ff9191"/>
<rect x="267.98" y="505.88" width="3.44" height="27.99" fill="#ffffff"/>
<rect x="271.17" y="505.88" width="3.44" height="27.99" fill="#ff9191"/>
<rect x="274.35" y="505.88" width="6.76" height="27.99" fill="#ffffff"/>
<rect x="280.87" y="505.88" width="3.44" height="27.99" fill="#ff9191"/>
<rect x="284.06" y="505.88" width="3.58" height="27.99" fill="#ff4848"/>
<rect x="287.38" y="505.88" width="3.85" height="27.99" fill="#ffb6b6"/>
<rect x="290.99" y="505.88" width="3.58" height="27.99" fill="#ffffff"/>
<rect x="294.31" y="505.88" width="2.74" height="27.99" fill="#dadaff"/>
<rect x="296.81" y="505.88" width="3.72" height="27.99" fill="#ffffff"/>
<rect x="300.27" y="505.88" width="3.72" height="27.99" fill="#ffb6b6"/>
<rect x="303.74" y="505.88" width="3.02" height="27.99" fill="#ff4848"/>
<rect x="306.51" y="505.88" width="3.72" height="27.99" fill="#ffffff"/>
<rect x="309.98" y="505.88" width="3.72" height="27.99" fill="#ffdada"/>
<rect x="313.44" y="505.88" width="2.74" height="27.99" fill="#ff9191"/>
<rect x="315.93" y="505.88" width="3.3" height="27.99" fill="#ffffff"/>
<rect x="318.98" y="505.88" width="3.72" height="27.99" fill="#dadaff"/>
<rect x="322.45" y="505.88" width="3.72" height="27.99" fill="#ffffff"/>
<rect x="325.91" y="505.88" width="3.02" height="27.99" fill="#ff9191"/>
<rect x="328.69" y="505.88" width="7.18" height="27.99" fill="#ffffff"/>
<rect x="335.62" y="505.88" width="3.02" height="27.99" fill="#ff9191"/>
<rect x="338.39" y="505.88" width="3.72" height="27.99" fill="#b6b6ff"/>
<rect x="341.85" y="505.88" width="3.44" height="27.99" fill="#dadaff"/>
<rect x="345.04" y="505.88" width="3.3" height="27.99" fill="#ffffff"/>
<rect x="348.09" y="505.88" width="3.16" height="27.99" fill="#2424ff"/>
<rect x="258" y="533.57" width="3.72" height="27.99" fill="#ff9191"/>
<rect x="261.47" y="533.57" width="3.72" height="27.99" fill="#ffffff"/>
<rect x="264.93" y="533.57" width="3.3" height="27.99" fill="#ffdada"/>
<rect x="267.98" y="533.57" width="3.44" height="27.99" fill="#ffffff"/>
<rect x="271.17" y="533.57" width="3.44" height="27.99" fill="#ff2424"/>
<rect x="274.35" y="533.57" width="3.3" height="27.99" fill="#ffb6b6"/>
<rect x="277.4" y="533.57" width="3.72" height="27.99" fill="#ffffff"/>
<rect x="280.87" y="533.57" width="3.44" height="27.99" fill="#ffdada"/>
<rect x="284.06" y="533.57" width="3.58" height="27.99" fill="#ff4848"/>
<rect x="287.38" y="533.57" width="7.18" height="27.99" fill="#ffb6b6"/>
<rect x="294.31" y="533.57" width="6.21" height="27.99" fill="#ffdada"/>
<rect x="300.27" y="533.57" width="3.72" height="27.99" fill="#ff9191"/>
<rect x="303.74" y="533.57" width="3.02" height="27.99" fill="#ffb6b6"/>
<rect x="306.51" y="533.57" width="3.72" height="27.99" fill="#2424ff"/>
<rect x="309.98" y="533.57" width="3.72" height="27.99" fill="#ffffff"/>
<rect x="313.44" y="533.57" width="2.74" height="27.99" fill="#ff9191"/>
<rect x="315.93" y="533.57" width="3.3" height="27.99" fill="#b6b6ff"/>
<rect x="318.98" y="533.57" width="3.72" height="27.99" fill="#dadaff"/>
<rect x="322.45" y="533.57" width="3.72" height="27.99" fill="#ffffff"/>
<rect x="325.91" y="533.57" width="3.02" height="27.99" fill="#ffb6b6"/>
<rect x="328.69" y="533.57" width="3.72" height="27.99" fill="#dadaff"/>
<rect x="332.15" y="533.57" width="3.72" height="27.99" fill="#ffffff"/>
<rect x="335.62" y="533.57" width="3.02" height="27.99" fill="#ff2424"/>
<rect x="338.39" y="533.57" width="12.86" height="27.99" fill="#ffffff"/>
<rect x="258" y="561.26" width="3.72" height="27.99" fill="#ff9191"/>
<rect x="261.47" y="561.26" width="3.72" height="27.99" fill="#dadaff"/>
<rect x="264.93" y="561.26" width="6.49" height="27.99" fill="#ffffff"/>
<rect x="271.17" y="561.26" width="6.49" height="27.99" fill="#ff9191"/>
<rect x="277.4" y="561.26" width="3.72" height="27.99" fill="#dadaff"/>
<rect x="280.87" y="561.26" width="3.44" height="27.99" fill="#ffffff"/>
<rect x="284.06" y="561.26" width="7.18" height="27.99" fill="#ffb6b6"/>
<rect x="290.99" y="561.26" width="3.58" height="27.99" fill="#dadaff"/>
<rect x="294.31" y="561.26" width="2.74" height="27.99" fill="#ffffff"/>
<rect x="296.81" y="561.26" width="3.72" height="27.99" fill="#dadaff"/>
<rect x="300.27" y="561.26" width="6.49" height="27.99" fill="#ff2424"/>
<rect x="306.51" y="561.26" width="3.72" height="27.99" fill="#9191ff"/>
<rect x="309.98" y="561.26" width="3.72" height="27.99" fill="#dadaff"/>
<rect x="313.44" y="561.26" width="2.74" height="27.99" fill="#ffffff"/>
<rect x="315.93" y="561.26" width="3.3" height="27.99" fill="#b6b6ff"/>
<rect x="318.98" y="561.26" width="3.72" height="27.99" fill="#9191ff"/>
<rect x="322.45" y="561.26" width="3.72" height="27.99" fill="#dadaff"/>
<rect x="325.91" y="561.26" width="3.02" height="27.99" fill="#ffb6b6"/>
<rect x="328.69" y="561.26" width="3.72" height="27.99" fill="#9191ff"/>
<rect x="332.15" y="561.26" width="3.72" height="27.99" fill="#ffffff"/>
<rect x="335.62" y="561.26" width="3.02" height="27.99" fill="#ff6d6d"/>
<rect x="338.39" y="561.26" width="9.95" height="27.99" fill="#ffffff"/>
<rect x="348.09" y="561.26" width="3.16" height="27.99" fill="#ffdada"/>
<rect x="258" y="588.94" width="3.69" height="27.99" fill="#dadaff"/>
<rect x="261.44" y="588.94" width="3.69" height="27.99" fill="#b6b6ff"/>
<rect x="264.89" y="588.94" width="6.45" height="27.99" fill="#6d6dff"/>
<rect x="271.09" y="588.94" width="3.42" height="27.99" fill="#ff9191"/>
<rect x="274.26" y="588.94" width="3.28" height="27.99" fill="#ffdada"/>
<rect x="277.29" y="588.94" width="6.86" height="27.99" fill="#ffffff"/>
<rect x="283.9" y="588.94" width="3.56" height="27.99" fill="#dadaff"/>
<rect x="287.21" y="588.94" width="3.83" height="27.99" fill="#ffdada"/>
<rect x="290.79" y="588.94" width="3.56" height="27.99" fill="#dadaff"/>
<rect x="294.1" y="588.94" width="6.17" height="27.99" fill="#6d6dff"/>
<rect x="300.02" y="588.94" width="6.45" height="27.99" fill="#ffb6b6"/>
<rect x="306.22" y="588.94" width="7.14" height="27.99" fill="#9191ff"/>
<rect x="313.11" y="588.94" width="2.73" height="27.99" fill="#ffffff"/>
<rect x="315.59" y="588.94" width="3.28" height="27.99" fill="#0000ff"/>
<rect x="318.62" y="588.94" width="3.69" height="27.99" fill="#ffffff"/>
<rect x="322.07" y="588.94" width="3.69" height="27.99" fill="#b6b6ff"/>
<rect x="325.51" y="588.94" width="3.01" height="27.99" fill="#ffffff"/>
<rect x="328.27" y="588.94" width="3.69" height="27.99" fill="#4848ff"/>
<rect x="331.71" y="588.94" width="3.69" height="27.99" fill="#ffffff"/>
<rect x="335.16" y="588.94" width="3.01" height="27.99" fill="#ff0000"/>
<rect x="337.91" y="588.94" width="9.89" height="27.99" fill="#ffffff"/>
<rect x="347.56" y="588.94" width="3.69" height="27.99" fill="#ffdada"/>
<rect x="258" y="616.63" width="3.69" height="27.99" fill="#ffb6b6"/>
<rect x="261.44" y="616.63" width="3.69" height="27.99" fill="#4848ff"/>
<rect x="264.89" y="616.63" width="3.28" height="27.99" fill="#ff4848"/>
<rect x="267.92" y="616.63" width="3.42" height="27.99" fill="#b6b6ff"/>
<rect x="271.09" y="616.63" width="3.42" height="27.99" fill="#ffffff"/>
<rect x="274.26" y="616.63" width="3.28" height="27.99" fill="#ff9191"/>
<rect x="277.29" y="616.63" width="3.69" height="27.99" fill="#b6b6ff"/>
<rect x="280.73" y="616.63" width="3.42" height="27.99" fill="#dadaff"/>
<rect x="283.9" y="616.63" width="7.14" height="27.99" fill="#ffffff"/>
<rect x="290.79" y="616.63" width="3.56" height="27.99" fill="#6d6dff"/>
<rect x="294.1" y="616.63" width="2.73" height="27.99" fill="#ffffff"/>
<rect x="296.58" y="616.63" width="9.89" height="27.99" fill="#ffb6b6"/>
<rect x="306.22" y="616.63" width="7.14" height="27.99" fill="#4848ff"/>
<rect x="313.11" y="616.63" width="5.76" height="27.99" fill="#dadaff"/>
<rect x="318.62" y="616.63" width="3.69" height="27.99" fill="#9191ff"/>
<rect x="322.07" y="616.63" width="3.69" height="27.99" fill="#b6b6ff"/>
<rect x="325.51" y="616.63" width="3.01" height="27.99" fill="#ffdada"/>
<rect x="328.27" y="616.63" width="3.69" height="27.99" fill="#dadaff"/>
<rect x="331.71" y="616.63" width="3.69" height="27.99" fill="#ffffff"/>
<rect x="335.16" y="616.63" width="3.01" height="27.99" fill="#ff9191"/>
<rect x="337.91" y="616.63" width="13.34" height="27.99" fill="#ffffff"/>
<rect x="258" y="644.32" width="3.69" height="27.99" fill="#ffffff"/>
<rect x="261.44" y="644.32" width="3.69" height="27.99" fill="#dadaff"/>
<rect x="264.89" y="644.32" width="3.28" height="27.99" fill="#b6b6ff"/>
<rect x="267.92" y="644.32" width="3.42" height="27.99" fill="#4848ff"/>
<rect x="271.09" y="644.32" width="3.42" height="27.99" fill="#ffdada"/>
<rect x="274.26" y="644.32" width="3.28" height="27.99" fill="#ffffff"/>
<rect x="277.29" y="644.32" width="3.69" height="27.99" fill="#b6b6ff"/>
<rect x="280.73" y="644.32" width="3.42" height="27.99" fill="#dadaff"/>
<rect x="283.9" y="644.32" width="7.14" height="27.99" fill="#ffffff"/>
<rect x="290.79" y="644.32" width="3.56" height="27.99" fill="#dadaff"/>
<rect x="294.1" y="644.32" width="2.73" height="27.99" fill="#9191ff"/>
<rect x="296.58" y="644.32" width="3.69" height="27.99" fill="#4848ff"/>
<rect x="300.02" y="644.32" width="3.01" height="27.99" fill="#ffffff"/>
<rect x="302.78" y="644.32" width="3.69" height="27.99" fill="#ff9191"/>
<rect x="306.22" y="644.32" width="3.69" height="27.99" fill="#ffffff"/>
<rect x="309.67" y="644.32" width="3.69" height="27.99" fill="#dadaff"/>
<rect x="313.11" y="644.32" width="2.73" height="27.99" fill="#ffffff"/>
<rect x="315.59" y="644.32" width="3.28" height="27.99" fill="#0000ff"/>
<rect x="318.62" y="644.32" width="3.69" height="27.99" fill="#9191ff"/>
<rect x="322.07" y="644.32" width="3.69" height="27.99" fill="#ffffff"/>
<rect x="325.51" y="644.32" width="3.01" height="27.99" fill="#ff6d6d"/>
<rect x="328.27" y="644.32" width="3.69" height="27.99" fill="#9191ff"/>
<rect x="331.71" y="644.32" width="3.69" height="27.99" fill="#ffffff"/>
<rect x="335.16" y="644.32" width="3.01" height="27.99" fill="#ff0000"/>
<rect x="337.91" y="644.32" width="3.01" height="27.99" fill="#ffffff"/>
<rect x="340.67" y="644.32" width="3.69" height="27.99" fill="#ffdada"/>
<rect x="344.11" y="644.32" width="3.69" height="27.99" fill="#dadaff"/>
<rect x="347.56" y="644.32" width="3.69" height="27.99" fill="#ffffff"/>
<rect x="258" y="672.01" width="3.69" height="27.99" fill="#ffffff"/>
<rect x="261.44" y="672.01" width="3.69" height="27.99" fill="#b6b6ff"/>
<rect x="264.89" y="672.01" width="6.45" height="27.99" fill="#9191ff"/>
<rect x="271.09" y="672.01" width="3.42" height="27.99" fill="#ffdada"/>
<rect x="274.26" y="672.01" width="6.73" height="27.99" fill="#dadaff"/>
<rect x="280.73" y="672.01" width="3.42" height="27.99" fill="#ffffff"/>
<rect x="283.9" y="672.01" width="3.56" height="27.99" fill="#dadaff"/>
<rect x="287.21" y="672.01" width="3.83" height="27.99" fill="#ffffff"/>
<rect x="290.79" y="672.01" width="3.56" height="27.99" fill="#dadaff"/>
<rect x="294.1" y="672.01" width="6.17" height="27.99" fill="#9191ff"/>
<rect x="300.02" y="672.01" width="3.01" height="27.99" fill="#ffdada"/>
<rect x="302.78" y="672.01" width="3.69" height="27.99" fill="#ffb6b6"/>
<rect x="306.22" y="672.01" width="3.69" height="27.99" fill="#dadaff"/>
<rect x="309.67" y="672.01" width="3.69" height="27.99" fill="#b6b6ff"/>
<rect x="313.11" y="672.01" width="2.73" height="27.99" fill="#ffffff"/>
<rect x="315.59" y="672.01" width="3.28" height="27.99" fill="#0000ff"/>
<rect x="318.62" y="672.01" width="3.69" height="27.99" fill="#dadaff"/>
<rect x="322.07" y="672.01" width="3.69" height="27.99" fill="#ffffff"/>
<rect x="325.51" y="672.01" width="3.01" height="27.99" fill="#ffb6b6"/>
<rect x="328.27" y="672.01" width="3.69" height="27.99" fill="#9191ff"/>
<rect x="331.71" y="672.01" width="3.69" height="27.99" fill="#ffffff"/>
<rect x="335.16" y="672.01" width="3.01" height="27.99" fill="#ff4848"/>
<rect x="337.91" y="672.01" width="3.01" height="27.99" fill="#ffffff"/>
<rect x="340.67" y="672.01" width="3.69" height="27.99" fill="#dadaff"/>
<rect x="344.11" y="672.01" width="3.69" height="27.99" fill="#b6b6ff"/>
<rect x="347.56" y="672.01" width="3.69" height="27.99" fill="#ffffff"/>
<rect x="351" y="450.5" width="4.13" height="27.99" fill="#ffffff"/>
<rect x="354.88" y="450.5" width="3.3" height="27.99" fill="#dadaff"/>
<rect x="357.93" y="450.5" width="6.49" height="27.99" fill="#6d6dff"/>
<rect x="364.17" y="450.5" width="3.44" height="27.99" fill="#ffffff"/>
<rect x="367.35" y="450.5" width="3.58" height="27.99" fill="#ff0000"/>
<rect x="370.68" y="450.5" width="6.63" height="27.99" fill="#dadaff"/>
<rect x="377.06" y="450.5" width="3.58" height="27.99" fill="#9191ff"/>
<rect x="380.38" y="450.5" width="9.67" height="27.99" fill="#6d6dff"/>
<rect x="389.81" y="450.5" width="3.72" height="27.99" fill="#ffffff"/>
<rect x="393.27" y="450.5" width="3.44" height="27.99" fill="#0000ff"/>
<rect x="396.46" y="450.5" width="3.3" height="27.99" fill="#dadaff"/>
<rect x="399.51" y="450.5" width="3.72" height="27.99" fill="#ffffff"/>
<rect x="402.98" y="450.5" width="6.21" height="27.99" fill="#ff0000"/>
<rect x="408.93" y="450.5" width="7.18" height="27.99" fill="#ffffff"/>
<rect x="415.86" y="450.5" width="3.3" height="27.99" fill="#6d6dff"/>
<rect x="418.91" y="450.5" width="3.3" height="27.99" fill="#dadaff"/>
<rect x="421.96" y="450.5" width="9.67" height="27.99" fill="#ffffff"/>
<rect x="431.39" y="450.5" width="3.72" height="27.99" fill="#6d6dff"/>
<rect x="434.85" y="450.5" width="3.44" height="27.99" fill="#b6b6ff"/>
<rect x="438.04" y="450.5" width="3.3" height="27.99" fill="#ffffff"/>
<rect x="441.09" y="450.5" width="3.16" height="27.99" fill="#0000ff"/>
<rect x="351" y="478.19" width="3.72" height="27.99" fill="#ff6d6d"/>
<rect x="354.47" y="478.19" width="3.72" height="27.99" fill="#0000ff"/>
<rect x="357.93" y="478.19" width="6.49" height="27.99" fill="#ffffff"/>
<rect x="364.17" y="478.19" width="3.44" height="27.99" fill="#b6b6ff"/>
<rect x="367.35" y="478.19" width="6.76" height="27.99" fill="#ffffff"/>
<rect x="373.87" y="478.19" width="3.44" height="27.99" fill="#2424ff"/>
<rect x="377.06" y="478.19" width="3.58" height="27.99" fill="#ffffff"/>
<rect x="380.38" y="478.19" width="3.85" height="27.99" fill="#dadaff"/>
<rect x="383.99" y="478.19" width="6.07" height="27.99" fill="#ffdada"/>
<rect x="389.81" y="478.19" width="3.72" height="27.99" fill="#dadaff"/>
<rect x="393.27" y="478.19" width="3.44" height="27.99" fill="#ff2424"/>
<rect x="396.46" y="478.19" width="3.3" height="27.99" fill="#9191ff"/>
<rect x="399.51" y="478.19" width="3.72" height="27.99" fill="#ff6d6d"/>
<rect x="402.98" y="478.19" width="3.72" height="27.99" fill="#9191ff"/>
<rect x="406.44" y="478.19" width="2.74" height="27.99" fill="#ff9191"/>
<rect x="408.93" y="478.19" width="3.3" height="27.99" fill="#4848ff"/>
<rect x="411.98" y="478.19" width="4.13" height="27.99" fill="#ffdada"/>
<rect x="415.86" y="478.19" width="3.3" height="27.99" fill="#ffffff"/>
<rect x="418.91" y="478.19" width="3.3" height="27.99" fill="#b6b6ff"/>
<rect x="421.96" y="478.19" width="3.44" height="27.99" fill="#dadaff"/>
<rect x="425.15" y="478.19" width="3.72" height="27.99" fill="#9191ff"/>
<rect x="428.62" y="478.19" width="3.02" height="27.99" fill="#dadaff"/>
<rect x="431.39" y="478.19" width="3.72" height="27.99" fill="#ffffff"/>
<rect x="434.85" y="478.19" width="6.49" height="27.99" fill="#dadaff"/>
<rect x="441.09" y="478.19" width="3.16" height="27.99" fill="#b6b6ff"/>
<rect x="351" y="505.88" width="3.72" height="27.99" fill="#9191ff"/>
<rect x="354.47" y="505.88" width="3.72" height="27.99" fill="#ffffff"/>
<rect x="357.93" y="505.88" width="3.3" height="27.99" fill="#6d6dff"/>
<rect x="360.98" y="505.88" width="6.63" height="27.99" fill="#ffffff"/>
<rect x="367.35" y="505.88" width="3.58" height="27.99" fill="#ffb6b6"/>
<rect x="370.68" y="505.88" width="3.44" height="27.99" fill="#ffffff"/>
<rect x="373.87" y="505.88" width="3.44" height="27.99" fill="#dadaff"/>
<rect x="377.06" y="505.88" width="10.51" height="27.99" fill="#ffffff"/>
<rect x="387.31" y="505.88" width="2.74" height="27.99" fill="#6d6dff"/>
<rect x="389.81" y="505.88" width="3.72" height="27.99" fill="#b6b6ff"/>
<rect x="393.27" y="505.88" width="3.44" height="27.99" fill="#ff2424"/>
<rect x="396.46" y="505.88" width="3.3" height="27.99" fill="#0000ff"/>
<rect x="399.51" y="505.88" width="3.72" height="27.99" fill="#ffffff"/>
<rect x="402.98" y="505.88" width="6.21" height="27.99" fill="#0000ff"/>
<rect x="408.93" y="505.88" width="3.3" height="27.99" fill="#9191ff"/>
<rect x="411.98" y="505.88" width="4.13" height="27.99" fill="#dadaff"/>
<rect x="415.86" y="505.88" width="3.3" height="27.99" fill="#ffffff"/>
<rect x="418.91" y="505.88" width="3.3" height="27.99" fill="#0000ff"/>
<rect x="421.96" y="505.88" width="3.44" height="27.99" fill="#ffffff"/>
<rect x="425.15" y="505.88" width="3.72" height="27.99" fill="#ffdada"/>
<rect x="428.62" y="505.88" width="3.02" height="27.99" fill="#4848ff"/>
<rect x="431.39" y="505.88" width="3.72" height="27.99" fill="#ffdada"/>
<rect x="434.85" y="505.88" width="6.49" height="27.99" fill="#ffffff"/>
<rect x="441.09" y="505.88" width="3.16" height="27.99" fill="#4848ff"/>
<rect x="351" y="533.57" width="10.23" height="27.99" fill="#ffffff"/>
<rect x="360.98" y="533.57" width="3.44" height="27.99" fill="#dadaff"/>
<rect x="364.17" y="533.57" width="3.44" height="27.99" fill="#9191ff"/>
<rect x="367.35" y="533.57" width="3.58" height="27.99" fill="#4848ff"/>
<rect x="370.68" y="533.57" width="6.63" height="27.99" fill="#ffffff"/>
<rect x="377.06" y="533.57" width="3.58" height="27.99" fill="#b6b6ff"/>
<rect x="380.38" y="533.57" width="9.67" height="27.99" fill="#ffffff"/>
<rect x="389.81" y="533.57" width="3.72" height="27.99" fill="#9191ff"/>
<rect x="393.27" y="533.57" width="6.49" height="27.99" fill="#2424ff"/>
<rect x="399.51" y="533.57" width="3.72" height="27.99" fill="#ffffff"/>
<rect x="402.98" y="533.57" width="6.21" height="27.99" fill="#0000ff"/>
<rect x="408.93" y="533.57" width="3.3" height="27.99" fill="#6d6dff"/>
<rect x="411.98" y="533.57" width="7.18" height="27.99" fill="#ffffff"/>
<rect x="418.91" y="533.57" width="3.3" height="27.99" fill="#4848ff"/>
<rect x="421.96" y="533.57" width="3.44" height="27.99" fill="#ffffff"/>
<rect x="425.15" y="533.57" width="3.72" height="27.99" fill="#ff6d6d"/>
<rect x="428.62" y="533.57" width="3.02" height="27.99" fill="#b6b6ff"/>
<rect x="431.39" y="533.57" width="3.72" height="27.99" fill="#ffdada"/>
<rect x="434.85" y="533.57" width="3.44" height="27.99" fill="#ffffff"/>
<rect x="438.04" y="533.57" width="6.21" height="27.99" fill="#dadaff"/>
<rect x="351" y="561.26" width="3.72" height="27.99" fill="#ffdada"/>
<rect x="354.47" y="561.26" width="3.72" height="27.99" fill="#dadaff"/>
<rect x="357.93" y="561.26" width="3.3" height="27.99" fill="#ffffff"/>
<rect x="360.98" y="561.26" width="6.63" height="27.99" fill="#6d6dff"/>
<rect x="367.35" y="561.26" width="3.58" height="27.99" fill="#b6b6ff"/>
<rect x="370.68" y="561.26" width="3.44" height="27.99" fill="#ffb6b6"/>
<rect x="373.87" y="561.26" width="3.44" height="27.99" fill="#ffdada"/>
<rect x="377.06" y="561.26" width="10.51" height="27.99" fill="#ffffff"/>
<rect x="387.31" y="561.26" width="6.21" height="27.99" fill="#6d6dff"/>
<rect x="393.27" y="561.26" width="6.49" height="27.99" fill="#b6b6ff"/>
<rect x="399.51" y="561.26" width="3.72" height="27.99" fill="#ffffff"/>
<rect x="402.98" y="561.26" width="3.72" height="27.99" fill="#ff0000"/>
<rect x="406.44" y="561.26" width="2.74" height="27.99" fill="#ffb6b6"/>
<rect x="408.93" y="561.26" width="3.3" height="27.99" fill="#ffffff"/>
<rect x="411.98" y="561.26" width="4.13" height="27.99" fill="#dadaff"/>
<rect x="415.86" y="561.26" width="3.3" height="27.99" fill="#ffffff"/>
<rect x="418.91" y="561.26" width="3.3" height="27.99" fill="#9191ff"/>
<rect x="421.96" y="561.26" width="3.44" height="27.99" fill="#ff6d6d"/>
<rect x="425.15" y="561.26" width="3.72" height="27.99" fill="#ffdada"/>
<rect x="428.62" y="561.26" width="3.02" height="27.99" fill="#b6b6ff"/>
<rect x="431.39" y="561.26" width="6.9" height="27.99" fill="#ffffff"/>
<rect x="438.04" y="561.26" width="3.3" height="27.99" fill="#b6b6ff"/>
<rect x="441.09" y="561.26" width="3.16" height="27.99" fill="#6d6dff"/>
<rect x="351" y="588.94" width="7.14" height="27.99" fill="#9191ff"/>
<rect x="357.89" y="588.94" width="3.28" height="27.99" fill="#dadaff"/>
<rect x="360.92" y="588.94" width="3.42" height="27.99" fill="#ffffff"/>
<rect x="364.09" y="588.94" width="3.42" height="27.99" fill="#4848ff"/>
<rect x="367.26" y="588.94" width="3.56" height="27.99" fill="#ffb6b6"/>
<rect x="370.56" y="588.94" width="3.42" height="27.99" fill="#ffffff"/>
<rect x="373.73" y="588.94" width="3.42" height="27.99" fill="#9191ff"/>
<rect x="376.9" y="588.94" width="3.56" height="27.99" fill="#ffffff"/>
<rect x="380.21" y="588.94" width="7.14" height="27.99" fill="#dadaff"/>
<rect x="387.1" y="588.94" width="3.01" height="27.99" fill="#ffffff"/>
<rect x="389.85" y="588.94" width="3.42" height="27.99" fill="#6d6dff"/>
<rect x="393.02" y="588.94" width="3.01" height="27.99" fill="#ffffff"/>
<rect x="395.78" y="588.94" width="3.69" height="27.99" fill="#6d6dff"/>
<rect x="399.22" y="588.94" width="3.69" height="27.99" fill="#ffffff"/>
<rect x="402.67" y="588.94" width="6.17" height="27.99" fill="#ff6d6d"/>
<rect x="408.59" y="588.94" width="3.28" height="27.99" fill="#ffdada"/>
<rect x="411.62" y="588.94" width="4.11" height="27.99" fill="#ff2424"/>
<rect x="415.48" y="588.94" width="3.28" height="27.99" fill="#ffffff"/>
<rect x="418.51" y="588.94" width="3.28" height="27.99" fill="#b6b6ff"/>
<rect x="421.54" y="588.94" width="3.42" height="27.99" fill="#ff9191"/>
<rect x="424.71" y="588.94" width="3.69" height="27.99" fill="#ff4848"/>
<rect x="428.16" y="588.94" width="3.01" height="27.99" fill="#b6b6ff"/>
<rect x="430.91" y="588.94" width="3.69" height="27.99" fill="#ffdada"/>
<rect x="434.36" y="588.94" width="3.42" height="27.99" fill="#ffb6b6"/>
<rect x="437.53" y="588.94" width="3.28" height="27.99" fill="#ffffff"/>
<rect x="440.56" y="588.94" width="3.69" height="27.99" fill="#ffb6b6"/>
<rect x="351" y="616.63" width="3.69" height="27.99" fill="#0000ff"/>
<rect x="354.44" y="616.63" width="6.73" height="27.99" fill="#ffffff"/>
<rect x="360.92" y="616.63" width="3.42" height="27.99" fill="#6d6dff"/>
<rect x="364.09" y="616.63" width="3.42" height="27.99" fill="#ffffff"/>
<rect x="367.26" y="616.63" width="3.56" height="27.99" fill="#6d6dff"/>
<rect x="370.56" y="616.63" width="3.42" height="27.99" fill="#dadaff"/>
<rect x="373.73" y="616.63" width="6.73" height="27.99" fill="#ffffff"/>
<rect x="380.21" y="616.63" width="3.83" height="27.99" fill="#ffb6b6"/>
<rect x="383.79" y="616.63" width="3.56" height="27.99" fill="#ff9191"/>
<rect x="387.1" y="616.63" width="3.01" height="27.99" fill="#9191ff"/>
<rect x="389.85" y="616.63" width="3.42" height="27.99" fill="#dadaff"/>
<rect x="393.02" y="616.63" width="3.01" height="27.99" fill="#ffffff"/>
<rect x="395.78" y="616.63" width="3.69" height="27.99" fill="#dadaff"/>
<rect x="399.22" y="616.63" width="3.69" height="27.99" fill="#ffdada"/>
<rect x="402.67" y="616.63" width="6.17" height="27.99" fill="#ff9191"/>
<rect x="408.59" y="616.63" width="7.14" height="27.99" fill="#ffffff"/>
<rect x="415.48" y="616.63" width="3.28" height="27.99" fill="#ff4848"/>
<rect x="418.51" y="616.63" width="3.28" height="27.99" fill="#ffffff"/>
<rect x="421.54" y="616.63" width="6.86" height="27.99" fill="#ff6d6d"/>
<rect x="428.16" y="616.63" width="3.01" height="27.99" fill="#ffffff"/>
<rect x="430.91" y="616.63" width="3.69" height="27.99" fill="#ff2424"/>
<rect x="434.36" y="616.63" width="6.45" height="27.99" fill="#ff6d6d"/>
<rect x="440.56" y="616.63" width="3.69" height="27.99" fill="#ffffff"/>
<rect x="351" y="644.32" width="3.69" height="27.99" fill="#dadaff"/>
<rect x="354.44" y="644.32" width="6.73" height="27.99" fill="#9191ff"/>
<rect x="360.92" y="644.32" width="3.42" height="27.99" fill="#dadaff"/>
<rect x="364.09" y="644.32" width="3.42" height="27.99" fill="#ffffff"/>
<rect x="367.26" y="644.32" width="6.73" height="27.99" fill="#ff9191"/>
<rect x="373.73" y="644.32" width="10.31" height="27.99" fill="#ffffff"/>
<rect x="383.79" y="644.32" width="3.56" height="27.99" fill="#ffb6b6"/>
<rect x="387.1" y="644.32" width="8.93" height="27.99" fill="#ffffff"/>
<rect x="395.78" y="644.32" width="3.69" height="27.99" fill="#6d6dff"/>
<rect x="399.22" y="644.32" width="3.69" height="27.99" fill="#ffb6b6"/>
<rect x="402.67" y="644.32" width="3.69" height="27.99" fill="#ff4848"/>
<rect x="406.11" y="644.32" width="2.73" height="27.99" fill="#ffdada"/>
<rect x="408.59" y="644.32" width="3.28" height="27.99" fill="#6d6dff"/>
<rect x="411.62" y="644.32" width="4.11" height="27.99" fill="#ffffff"/>
<rect x="415.48" y="644.32" width="3.28" height="27.99" fill="#ffb6b6"/>
<rect x="418.51" y="644.32" width="3.28" height="27.99" fill="#ffffff"/>
<rect x="421.54" y="644.32" width="6.86" height="27.99" fill="#ff9191"/>
<rect x="428.16" y="644.32" width="3.01" height="27.99" fill="#ff2424"/>
<rect x="430.91" y="644.32" width="3.69" height="27.99" fill="#ffb6b6"/>
<rect x="434.36" y="644.32" width="6.45" height="27.99" fill="#ff9191"/>
<rect x="440.56" y="644.32" width="3.69" height="27.99" fill="#dadaff"/>
<rect x="351" y="672.01" width="3.69" height="27.99" fill="#ff2424"/>
<rect x="354.44" y="672.01" width="6.73" height="27.99" fill="#ffffff"/>
<rect x="360.92" y="672.01" width="3.42" height="27.99" fill="#9191ff"/>
<rect x="364.09" y="672.01" width="3.42" height="27.99" fill="#6d6dff"/>
<rect x="367.26" y="672.01" width="6.73" height="27.99" fill="#ff9191"/>
<rect x="373.73" y="672.01" width="3.42" height="27.99" fill="#ffffff"/>
<rect x="376.9" y="672.01" width="3.56" height="27.99" fill="#9191ff"/>
<rect x="380.21" y="672.01" width="9.89" height="27.99" fill="#ffffff"/>
<rect x="389.85" y="672.01" width="3.42" height="27.99" fill="#b6b6ff"/>
<rect x="393.02" y="672.01" width="3.01" height="27.99" fill="#ff4848"/>
<rect x="395.78" y="672.01" width="3.69" height="27.99" fill="#ffffff"/>
<rect x="399.22" y="672.01" width="3.69" height="27.99" fill="#ff2424"/>
<rect x="402.67" y="672.01" width="6.17" height="27.99" fill="#ff6d6d"/>
<rect x="408.59" y="672.01" width="3.28" height="27.99" fill="#ffffff"/>
<rect x="411.62" y="672.01" width="4.11" height="27.99" fill="#ffb6b6"/>
<rect x="415.48" y="672.01" width="3.28" height="27.99" fill="#ffdada"/>
<rect x="418.51" y="672.01" width="3.28" height="27.99" fill="#dadaff"/>
<rect x="421.54" y="672.01" width="6.86" height="27.99" fill="#ffb6b6"/>
<rect x="428.16" y="672.01" width="3.01" height="27.99" fill="#b6b6ff"/>
<rect x="430.91" y="672.01" width="6.86" height="27.99" fill="#ffdada"/>
<rect x="437.53" y="672.01" width="3.28" height="27.99" fill="#ffffff"/>
<rect x="440.56" y="672.01" width="3.69" height="27.99" fill="#6d6dff"/>
<rect x="444" y="450.5" width="3.72" height="27.99" fill="#9191ff"/>
<rect x="447.47" y="450.5" width="3.72" height="27.99" fill="#b6b6ff"/>
<rect x="450.93" y="450.5" width="3.3" height="27.99" fill="#ffffff"/>
<rect x="453.98" y="450.5" width="3.44" height="27.99" fill="#0000ff"/>
<rect x="457.17" y="450.5" width="6.76" height="27.99" fill="#ffffff"/>
<rect x="463.68" y="450.5" width="6.63" height="27.99" fill="#4848ff"/>
<rect x="470.06" y="450.5" width="3.58" height="27.99" fill="#ff0000"/>
<rect x="473.38" y="450.5" width="3.85" height="27.99" fill="#dadaff"/>
<rect x="476.99" y="450.5" width="3.58" height="27.99" fill="#ffffff"/>
<rect x="480.31" y="450.5" width="6.21" height="27.99" fill="#4848ff"/>
<rect x="486.27" y="450.5" width="3.44" height="27.99" fill="#9191ff"/>
<rect x="489.46" y="450.5" width="3.3" height="27.99" fill="#ffffff"/>
<rect x="492.51" y="450.5" width="3.72" height="27.99" fill="#0000ff"/>
<rect x="495.98" y="450.5" width="3.02" height="27.99" fill="#ffffff"/>
<rect x="498.75" y="450.5" width="3.44" height="27.99" fill="#0000ff"/>
<rect x="501.93" y="450.5" width="3.3" height="27.99" fill="#ffffff"/>
<rect x="504.98" y="450.5" width="7.18" height="27.99" fill="#4848ff"/>
<rect x="511.91" y="450.5" width="3.3" height="27.99" fill="#ffffff"/>
<rect x="514.96" y="450.5" width="3.44" height="27.99" fill="#9191ff"/>
<rect x="518.15" y="450.5" width="3.72" height="27.99" fill="#ffffff"/>
<rect x="521.62" y="450.5" width="6.49" height="27.99" fill="#4848ff"/>
<rect x="527.85" y="450.5" width="3.44" height="27.99" fill="#6d6dff"/>
<rect x="531.04" y="450.5" width="3.51" height="27.99" fill="#2424ff"/>
<rect x="444" y="478.19" width="7.18" height="27.99" fill="#dadaff"/>
<rect x="450.93" y="478.19" width="3.3" height="27.99" fill="#2424ff"/>
<rect x="453.98" y="478.19" width="3.44" height="27.99" fill="#ffffff"/>
<rect x="457.17" y="478.19" width="3.44" height="27.99" fill="#dadaff"/>
<rect x="460.35" y="478.19" width="3.58" height="27.99" fill="#ffdada"/>
<rect x="463.68" y="478.19" width="3.44" height="27.99" fill="#ffffff"/>
<rect x="466.87" y="478.19" width="3.44" height="27.99" fill="#6d6dff"/>
<rect x="470.06" y="478.19" width="3.58" height="27.99" fill="#ff6d6d"/>
<rect x="473.38" y="478.19" width="3.85" height="27.99" fill="#9191ff"/>
<rect x="476.99" y="478.19" width="3.58" height="27.99" fill="#ff9191"/>
<rect x="480.31" y="478.19" width="3.02" height="27.99" fill="#0000ff"/>
<rect x="483.09" y="478.19" width="3.44" height="27.99" fill="#ffffff"/>
<rect x="486.27" y="478.19" width="3.44" height="27.99" fill="#b6b6ff"/>
<rect x="489.46" y="478.19" width="3.3" height="27.99" fill="#ff9191"/>
<rect x="492.51" y="478.19" width="9.67" height="27.99" fill="#0000ff"/>
<rect x="501.93" y="478.19" width="7.18" height="27.99" fill="#4848ff"/>
<rect x="508.86" y="478.19" width="3.3" height="27.99" fill="#0000ff"/>
<rect x="511.91" y="478.19" width="3.3" height="27.99" fill="#dadaff"/>
<rect x="514.96" y="478.19" width="3.44" height="27.99" fill="#ffffff"/>
<rect x="518.15" y="478.19" width="3.72" height="27.99" fill="#ffdada"/>
<rect x="521.62" y="478.19" width="3.02" height="27.99" fill="#9191ff"/>
<rect x="524.39" y="478.19" width="3.72" height="27.99" fill="#ff9191"/>
<rect x="527.85" y="478.19" width="3.44" height="27.99" fill="#dadaff"/>
<rect x="531.04" y="478.19" width="3.51" height="27.99" fill="#0000ff"/>
<rect x="444" y="505.88" width="7.18" height="27.99" fill="#9191ff"/>
<rect x="450.93" y="505.88" width="3.3" height="27.99" fill="#2424ff"/>
<rect x="453.98" y="505.88" width="6.63" height="27.99" fill="#9191ff"/>
<rect x="460.35" y="505.88" width="3.58" height="27.99" fill="#ffdada"/>
<rect x="463.68" y="505.88" width="3.44" height="27.99" fill="#9191ff"/>
<rect x="466.87" y="505.88" width="3.44" height="27.99" fill="#ffffff"/>
<rect x="470.06" y="505.88" width="3.58" height="27.99" fill="#ff4848"/>
<rect x="473.38" y="505.88" width="3.85" height="27.99" fill="#ffffff"/>
<rect x="476.99" y="505.88" width="3.58" height="27.99" fill="#ffb6b6"/>
<rect x="480.31" y="505.88" width="3.02" height="27.99" fill="#ffffff"/>
<rect x="483.09" y="505.88" width="3.44" height="27.99" fill="#dadaff"/>
<rect x="486.27" y="505.88" width="3.44" height="27.99" fill="#6d6dff"/>
<rect x="489.46" y="505.88" width="3.3" height="27.99" fill="#ffffff"/>
<rect x="492.51" y="505.88" width="6.49" height="27.99" fill="#0000ff"/>
<rect x="498.75" y="505.88" width="3.44" height="27.99" fill="#9191ff"/>
<rect x="501.93" y="505.88" width="3.3" height="27.99" fill="#ff9191"/>
<rect x="504.98" y="505.88" width="4.13" height="27.99" fill="#9191ff"/>
<rect x="508.86" y="505.88" width="3.3" height="27.99" fill="#0000ff"/>
<rect x="511.91" y="505.88" width="3.3" height="27.99" fill="#ffffff"/>
<rect x="514.96" y="505.88" width="3.44" height="27.99" fill="#4848ff"/>
<rect x="518.15" y="505.88" width="3.72" height="27.99" fill="#ffffff"/>
<rect x="521.62" y="505.88" width="3.02" height="27.99" fill="#dadaff"/>
<rect x="524.39" y="505.88" width="3.72" height="27.99" fill="#9191ff"/>
<rect x="527.85" y="505.88" width="3.44" height="27.99" fill="#ffffff"/>
<rect x="531.04" y="505.88" width="3.51" height="27.99" fill="#0000ff"/>
<rect x="444" y="533.57" width="3.72" height="27.99" fill="#dadaff"/>
<rect x="447.47" y="533.57" width="3.72" height="27.99" fill="#b6b6ff"/>
<rect x="450.93" y="533.57" width="3.3" height="27.99" fill="#0000ff"/>
<rect x="453.98" y="533.57" width="3.44" height="27.99" fill="#ffb6b6"/>
<rect x="457.17" y="533.57" width="6.76" height="27.99" fill="#dadaff"/>
<rect x="463.68" y="533.57" width="3.44" height="27.99" fill="#2424ff"/>
<rect x="466.87" y="533.57" width="3.44" height="27.99" fill="#ffffff"/>
<rect x="470.06" y="533.57" width="3.58" height="27.99" fill="#ff0000"/>
<rect x="473.38" y="533.57" width="3.85" height="27.99" fill="#ffffff"/>
<rect x="476.99" y="533.57" width="3.58" height="27.99" fill="#ff6d6d"/>
<rect x="480.31" y="533.57" width="3.02" height="27.99" fill="#dadaff"/>
<rect x="483.09" y="533.57" width="3.44" height="27.99" fill="#ffffff"/>
<rect x="486.27" y="533.57" width="3.44" height="27.99" fill="#dadaff"/>
<rect x="489.46" y="533.57" width="3.3" height="27.99" fill="#ffdada"/>
<rect x="492.51" y="533.57" width="6.49" height="27.99" fill="#0000ff"/>
<rect x="498.75" y="533.57" width="3.44" height="27.99" fill="#9191ff"/>
<rect x="501.93" y="533.57" width="3.3" height="27.99" fill="#b6b6ff"/>
<rect x="504.98" y="533.57" width="4.13" height="27.99" fill="#9191ff"/>
<rect x="508.86" y="533.57" width="3.3" height="27.99" fill="#0000ff"/>
<rect x="511.91" y="533.57" width="3.3" height="27.99" fill="#ffffff"/>
<rect x="514.96" y="533.57" width="3.44" height="27.99" fill="#0000ff"/>
<rect x="518.15" y="533.57" width="3.72" height="27.99" fill="#9191ff"/>
<rect x="521.62" y="533.57" width="6.49" height="27.99" fill="#0000ff"/>
<rect x="527.85" y="533.57" width="3.44" height="27.99" fill="#ffffff"/>
<rect x="531.04" y="533.57" width="3.51" height="27.99" fill="#6d6dff"/>
<rect x="444" y="561.26" width="3.72" height="27.99" fill="#9191ff"/>
<rect x="447.47" y="561.26" width="3.72" height="27.99" fill="#ffdada"/>
<rect x="450.93" y="561.26" width="3.3" height="27.99" fill="#0000ff"/>
<rect x="453.98" y="561.26" width="3.44" height="27.99" fill="#ffffff"/>
<rect x="457.17" y="561.26" width="3.44" height="27.99" fill="#6d6dff"/>
<rect x="460.35" y="561.26" width="3.58" height="27.99" fill="#ffffff"/>
<rect x="463.68" y="561.26" width="6.63" height="27.99" fill="#6d6dff"/>
<rect x="470.06" y="561.26" width="3.58" height="27.99" fill="#ff2424"/>
<rect x="473.38" y="561.26" width="3.85" height="27.99" fill="#ffffff"/>
<rect x="476.99" y="561.26" width="3.58" height="27.99" fill="#ff6d6d"/>
<rect x="480.31" y="561.26" width="3.02" height="27.99" fill="#2424ff"/>
<rect x="483.09" y="561.26" width="3.44" height="27.99" fill="#ffffff"/>
<rect x="486.27" y="561.26" width="3.44" height="27.99" fill="#b6b6ff"/>
<rect x="489.46" y="561.26" width="3.3" height="27.99" fill="#ffb6b6"/>
<rect x="492.51" y="561.26" width="9.67" height="27.99" fill="#0000ff"/>
<rect x="501.93" y="561.26" width="3.3" height="27.99" fill="#ffffff"/>
<rect x="504.98" y="561.26" width="4.13" height="27.99" fill="#9191ff"/>
<rect x="508.86" y="561.26" width="3.3" height="27.99" fill="#0000ff"/>
<rect x="511.91" y="561.26" width="3.3" height="27.99" fill="#ffffff"/>
<rect x="514.96" y="561.26" width="3.44" height="27.99" fill="#9191ff"/>
<rect x="518.15" y="561.26" width="3.72" height="27.99" fill="#ffffff"/>
<rect x="521.62" y="561.26" width="3.02" height="27.99" fill="#0000ff"/>
<rect x="524.39" y="561.26" width="3.72" height="27.99" fill="#4848ff"/>
<rect x="527.85" y="561.26" width="3.44" height="27.99" fill="#ffffff"/>
<rect x="531.04" y="561.26" width="3.51" height="27.99" fill="#9191ff"/>
<rect x="444" y="588.94" width="3.69" height="27.99" fill="#ffb6b6"/>
<rect x="447.44" y="588.94" width="3.69" height="27.99" fill="#dadaff"/>
<rect x="450.89" y="588.94" width="3.28" height="27.99" fill="#ffb6b6"/>
<rect x="453.92" y="588.94" width="6.59" height="27.99" fill="#ff9191"/>
<rect x="460.26" y="588.94" width="3.56" height="27.99" fill="#ff2424"/>
<rect x="463.56" y="588.94" width="6.59" height="27.99" fill="#ffffff"/>
<rect x="469.9" y="588.94" width="10.45" height="27.99" fill="#ff0000"/>
<rect x="480.1" y="588.94" width="3.01" height="27.99" fill="#ffffff"/>
<rect x="482.85" y="588.94" width="3.42" height="27.99" fill="#ff0000"/>
<rect x="486.02" y="588.94" width="3.01" height="27.99" fill="#ffdada"/>
<rect x="488.78" y="588.94" width="3.69" height="27.99" fill="#ff0000"/>
<rect x="492.22" y="588.94" width="6.45" height="27.99" fill="#9191ff"/>
<rect x="498.42" y="588.94" width="3.42" height="27.99" fill="#dadaff"/>
<rect x="501.59" y="588.94" width="3.28" height="27.99" fill="#ffdada"/>
<rect x="504.62" y="588.94" width="4.11" height="27.99" fill="#ffb6b6"/>
<rect x="508.48" y="588.94" width="3.28" height="27.99" fill="#b6b6ff"/>
<rect x="511.51" y="588.94" width="9.89" height="27.99" fill="#ff9191"/>
<rect x="521.16" y="588.94" width="3.69" height="27.99" fill="#ffffff"/>
<rect x="524.6" y="588.94" width="6.45" height="27.99" fill="#ff2424"/>
<rect x="530.8" y="588.94" width="3.75" height="27.99" fill="#ffdada"/>
<rect x="444" y="616.63" width="3.69" height="27.99" fill="#ffffff"/>
<rect x="447.44" y="616.63" width="3.69" height="27.99" fill="#ff9191"/>
<rect x="450.89" y="616.63" width="3.28" height="27.99" fill="#9191ff"/>
<rect x="453.92" y="616.63" width="3.42" height="27.99" fill="#ffffff"/>
<rect x="457.09" y="616.63" width="3.42" height="27.99" fill="#ffdada"/>
<rect x="460.26" y="616.63" width="3.56" height="27.99" fill="#ff4848"/>
<rect x="463.56" y="616.63" width="6.59" height="27.99" fill="#ffffff"/>
<rect x="469.9" y="616.63" width="3.56" height="27.99" fill="#ff0000"/>
<rect x="473.21" y="616.63" width="3.83" height="27.99" fill="#ffffff"/>
<rect x="476.79" y="616.63" width="3.56" height="27.99" fill="#ff0000"/>
<rect x="480.1" y="616.63" width="3.01" height="27.99" fill="#ffffff"/>
<rect x="482.85" y="616.63" width="3.42" height="27.99" fill="#ffb6b6"/>
<rect x="486.02" y="616.63" width="3.01" height="27.99" fill="#dadaff"/>
<rect x="488.78" y="616.63" width="3.69" height="27.99" fill="#ff0000"/>
<rect x="492.22" y="616.63" width="3.69" height="27.99" fill="#ffffff"/>
<rect x="495.67" y="616.63" width="3.01" height="27.99" fill="#b6b6ff"/>
<rect x="498.42" y="616.63" width="3.42" height="27.99" fill="#ffdada"/>
<rect x="501.59" y="616.63" width="3.97" height="27.99" fill="#ffb6b6"/>
<rect x="505.31" y="616.63" width="3.42" height="27.99" fill="#ff2424"/>
<rect x="508.48" y="616.63" width="3.28" height="27.99" fill="#2424ff"/>
<rect x="511.51" y="616.63" width="3.28" height="27.99" fill="#ff2424"/>
<rect x="514.54" y="616.63" width="3.42" height="27.99" fill="#ffdada"/>
<rect x="517.71" y="616.63" width="3.69" height="27.99" fill="#ff0000"/>
<rect x="521.16" y="616.63" width="3.69" height="27.99" fill="#b6b6ff"/>
<rect x="524.6" y="616.63" width="3.01" height="27.99" fill="#ff0000"/>
<rect x="527.36" y="616.63" width="7.19" height="27.99" fill="#ff6d6d"/>
<rect x="444" y="644.32" width="3.69" height="27.99" fill="#ffdada"/>
<rect x="447.44" y="644.32" width="3.69" height="27.99" fill="#ff9191"/>
<rect x="450.89" y="644.32" width="3.28" height="27.99" fill="#dadaff"/>
<rect x="453.92" y="644.32" width="6.59" height="27.99" fill="#ffdada"/>
<rect x="460.26" y="644.32" width="3.56" height="27.99" fill="#ff9191"/>
<rect x="463.56" y="644.32" width="3.42" height="27.99" fill="#ffffff"/>
<rect x="466.73" y="644.32" width="3.42" height="27.99" fill="#ffb6b6"/>
<rect x="469.9" y="644.32" width="3.56" height="27.99" fill="#ff0000"/>
<rect x="473.21" y="644.32" width="3.83" height="27.99" fill="#ffb6b6"/>
<rect x="476.79" y="644.32" width="3.56" height="27.99" fill="#ff0000"/>
<rect x="480.1" y="644.32" width="3.01" height="27.99" fill="#ffffff"/>
<rect x="482.85" y="644.32" width="6.17" height="27.99" fill="#ff6d6d"/>
<rect x="488.78" y="644.32" width="3.69" height="27.99" fill="#ff2424"/>
<rect x="492.22" y="644.32" width="3.69" height="27.99" fill="#4848ff"/>
<rect x="495.67" y="644.32" width="6.17" height="27.99" fill="#ffffff"/>
<rect x="501.59" y="644.32" width="3.28" height="27.99" fill="#ff0000"/>
<rect x="504.62" y="644.32" width="4.11" height="27.99" fill="#ffffff"/>
<rect x="508.48" y="644.32" width="3.28" height="27.99" fill="#dadaff"/>
<rect x="511.51" y="644.32" width="9.89" height="27.99" fill="#ff0000"/>
<rect x="521.16" y="644.32" width="3.69" height="27.99" fill="#ffffff"/>
<rect x="524.6" y="644.32" width="9.95" height="27.99" fill="#ff0000"/>
<rect x="444" y="672.01" width="3.69" height="27.99" fill="#dadaff"/>
<rect x="447.44" y="672.01" width="3.69" height="27.99" fill="#ff9191"/>
<rect x="450.89" y="672.01" width="3.28" height="27.99" fill="#6d6dff"/>
<rect x="453.92" y="672.01" width="3.42" height="27.99" fill="#ffffff"/>
<rect x="457.09" y="672.01" width="3.42" height="27.99" fill="#ffdada"/>
<rect x="460.26" y="672.01" width="3.56" height="27.99" fill="#ff2424"/>
<rect x="463.56" y="672.01" width="6.59" height="27.99" fill="#ffffff"/>
<rect x="469.9" y="672.01" width="3.56" height="27.99" fill="#ff0000"/>
<rect x="473.21" y="672.01" width="3.83" height="27.99" fill="#ffb6b6"/>
<rect x="476.79" y="672.01" width="3.56" height="27.99" fill="#ff0000"/>
<rect x="480.1" y="672.01" width="3.01" height="27.99" fill="#ffffff"/>
<rect x="482.85" y="672.01" width="6.17" height="27.99" fill="#ffb6b6"/>
<rect x="488.78" y="672.01" width="3.69" height="27.99" fill="#ff0000"/>
<rect x="492.22" y="672.01" width="6.45" height="27.99" fill="#b6b6ff"/>
<rect x="498.42" y="672.01" width="3.42" height="27.99" fill="#ffffff"/>
<rect x="501.59" y="672.01" width="3.28" height="27.99" fill="#ff0000"/>
<rect x="504.62" y="672.01" width="4.11" height="27.99" fill="#ffb6b6"/>
<rect x="508.48" y="672.01" width="6.31" height="27.99" fill="#ff6d6d"/>
<rect x="514.54" y="672.01" width="3.42" height="27.99" fill="#ffffff"/>
<rect x="517.71" y="672.01" width="9.89" height="27.99" fill="#ff0000"/>
<rect x="527.36" y="672.01" width="3.69" height="27.99" fill="#ff2424"/>
<rect x="530.8" y="672.01" width="3.75" height="27.99" fill="#ff9191"/>
<text x="543.2" y="470" font-family="Liberation Sans, sans-serif" font-size="16.1" font-weight="bold" text-anchor="start" fill="#000">SNAI2</text>
<text x="543.2" y="498.4" font-family="Liberation Sans, sans-serif" font-size="16.1" font-weight="bold" text-anchor="start" fill="#000">TWIST1</text>
<text x="543.2" y="527.5" font-family="Liberation Sans, sans-serif" font-size="16.1" font-weight="bold" text-anchor="start" fill="#000">TBX5</text>
<text x="543.2" y="555.9" font-family="Liberation Sans, sans-serif" font-size="16.1" font-weight="bold" text-anchor="start" fill="#000">BNC2</text>
<text x="543.2" y="584.2" font-family="Liberation Sans, sans-serif" font-size="16.1" font-weight="bold" text-anchor="start" fill="#000">PRRX1</text>
<text x="543.2" y="612.2" font-family="Liberation Sans, sans-serif" font-size="16.1" font-weight="bold" text-anchor="start" fill="#000">ZNF831</text>
<text x="543.2" y="641" font-family="Liberation Sans, sans-serif" font-size="16.1" font-weight="bold" text-anchor="start" fill="#000">SCML4</text>
<text x="543.2" y="669.4" font-family="Liberation Sans, sans-serif" font-size="16.1" font-weight="bold" text-anchor="start" fill="#000">SP140</text>
<text x="543.2" y="697.1" font-family="Liberation Sans, sans-serif" font-size="16.1" font-weight="bold" text-anchor="start" fill="#000">IKZF3</text>
<text x="125.8" y="718.8" font-family="Liberation Sans, sans-serif" font-size="13.4" font-weight="bold" text-anchor="start" fill="#000" textLength="25.8" lengthAdjust="spacingAndGlyphs">pCR</text>
<rect x="165.7" y="705.9" width="369.5" height="15.6" fill="#fff" stroke="#707070" stroke-width="1.1"/>
<rect x="210.1" y="706" width="5.9" height="15.4" fill="#000"/>
<rect x="219.7" y="706" width="3" height="15.4" fill="#000"/>
<rect x="268" y="706" width="3" height="15.4" fill="#000"/>
<rect x="313.1" y="706" width="2.9" height="15.4" fill="#000"/>
<rect x="329.1" y="706" width="2.9" height="15.4" fill="#000"/>
<rect x="355.2" y="706" width="2.9" height="15.4" fill="#000"/>
<rect x="368.1" y="706" width="2.9" height="15.4" fill="#000"/>
<rect x="381.1" y="706" width="5.9" height="15.4" fill="#000"/>
<rect x="390.3" y="706" width="3.4" height="15.4" fill="#000"/>
<rect x="397.1" y="706" width="3" height="15.4" fill="#000"/>
<rect x="422.9" y="706" width="3" height="15.4" fill="#000"/>
<rect x="429.3" y="706" width="6.3" height="15.4" fill="#000"/>
<rect x="458" y="706" width="12.9" height="15.4" fill="#000"/>
<rect x="473.9" y="706" width="3" height="15.4" fill="#000"/>
<rect x="487.7" y="706" width="2.9" height="15.4" fill="#000"/>
<rect x="493.6" y="706" width="6.5" height="15.4" fill="#000"/>
<rect x="503.1" y="706" width="2.9" height="15.4" fill="#000"/>
<rect x="526.2" y="706" width="9.5" height="15.4" fill="#000"/>
<rect x="79.9" y="778.2" width="229.9" height="229.6" fill="#eae7d7"/>
<rect x="108.2" y="802.2" width="197.8" height="173.9" fill="#ffffff"/>
<line x1="131.2" y1="802.2" x2="131.2" y2="885.6" stroke="#efefef" stroke-width="0.8"/>
<line x1="131.2" y1="920.5" x2="131.2" y2="976.1" stroke="#efefef" stroke-width="0.8"/>
<line x1="154.2" y1="802.2" x2="154.2" y2="885.6" stroke="#efefef" stroke-width="0.8"/>
<line x1="154.2" y1="920.5" x2="154.2" y2="976.1" stroke="#efefef" stroke-width="0.8"/>
<line x1="177.2" y1="802.2" x2="177.2" y2="885.6" stroke="#efefef" stroke-width="0.8"/>
<line x1="177.2" y1="920.5" x2="177.2" y2="976.1" stroke="#efefef" stroke-width="0.8"/>
<line x1="200.2" y1="802.2" x2="200.2" y2="885.6" stroke="#efefef" stroke-width="0.8"/>
<line x1="200.2" y1="920.5" x2="200.2" y2="976.1" stroke="#efefef" stroke-width="0.8"/>
<line x1="223.2" y1="802.2" x2="223.2" y2="885.6" stroke="#efefef" stroke-width="0.8"/>
<line x1="223.2" y1="920.5" x2="223.2" y2="976.1" stroke="#efefef" stroke-width="0.8"/>
<line x1="246.2" y1="802.2" x2="246.2" y2="885.6" stroke="#efefef" stroke-width="0.8"/>
<line x1="246.2" y1="920.5" x2="246.2" y2="976.1" stroke="#efefef" stroke-width="0.8"/>
<line x1="269.2" y1="802.2" x2="269.2" y2="885.6" stroke="#efefef" stroke-width="0.8"/>
<line x1="269.2" y1="920.5" x2="269.2" y2="976.1" stroke="#efefef" stroke-width="0.8"/>
<line x1="292.2" y1="802.2" x2="292.2" y2="885.6" stroke="#efefef" stroke-width="0.8"/>
<line x1="292.2" y1="920.5" x2="292.2" y2="976.1" stroke="#efefef" stroke-width="0.8"/>
<line x1="108.2" y1="882.4" x2="306" y2="882.4" stroke="#efefef" stroke-width="0.8"/>
<text x="104.2" y="884.2" font-family="Liberation Sans, sans-serif" font-size="4.9" font-weight="normal" text-anchor="end" fill="#333">0.0</text>
<line x1="108.2" y1="871.81" x2="306" y2="871.81" stroke="#efefef" stroke-width="0.8"/>
<text x="104.2" y="873.61" font-family="Liberation Sans, sans-serif" font-size="4.9" font-weight="normal" text-anchor="end" fill="#333">0.1</text>
<line x1="108.2" y1="861.23" x2="306" y2="861.23" stroke="#efefef" stroke-width="0.8"/>
<text x="104.2" y="863.03" font-family="Liberation Sans, sans-serif" font-size="4.9" font-weight="normal" text-anchor="end" fill="#333">0.2</text>
<line x1="108.2" y1="850.64" x2="306" y2="850.64" stroke="#efefef" stroke-width="0.8"/>
<text x="104.2" y="852.44" font-family="Liberation Sans, sans-serif" font-size="4.9" font-weight="normal" text-anchor="end" fill="#333">0.3</text>
<line x1="108.2" y1="840.06" x2="306" y2="840.06" stroke="#efefef" stroke-width="0.8"/>
<text x="104.2" y="841.86" font-family="Liberation Sans, sans-serif" font-size="4.9" font-weight="normal" text-anchor="end" fill="#333">0.4</text>
<line x1="108.2" y1="829.47" x2="306" y2="829.47" stroke="#efefef" stroke-width="0.8"/>
<text x="104.2" y="831.27" font-family="Liberation Sans, sans-serif" font-size="4.9" font-weight="normal" text-anchor="end" fill="#333">0.5</text>
<line x1="108.2" y1="818.88" x2="306" y2="818.88" stroke="#efefef" stroke-width="0.8"/>
<text x="104.2" y="820.68" font-family="Liberation Sans, sans-serif" font-size="4.9" font-weight="normal" text-anchor="end" fill="#333">0.6</text>
<line x1="108.2" y1="808.3" x2="306" y2="808.3" stroke="#efefef" stroke-width="0.8"/>
<text x="104.2" y="810.1" font-family="Liberation Sans, sans-serif" font-size="4.9" font-weight="normal" text-anchor="end" fill="#333">0.7</text>
<line x1="108.2" y1="882.4" x2="306" y2="882.4" stroke="#9a9a9a" stroke-width="0.9"/>
<rect x="108.2" y="802.2" width="197.8" height="83.4" fill="none" stroke="#d0d0d0" stroke-width="0.7"/>
<polyline points="108.2,882.4 108.6,866 109.1,844 110.6,832 112.8,821.7 115.7,815.7 119.4,812 123.9,809.8 128.3,808.3 131,808 134.3,806.6 137.2,805.7 141.7,807.1 146.1,808.3 149.1,808 156.5,811.3 163.9,814.3 175,819.4 200,832.5 223.3,845.5 250,859 272.2,870.6 285,876 297.8,882.1" fill="none" stroke="#22e022" stroke-width="2.4" stroke-linejoin="round"/>
<rect x="108.2" y="887.1" width="197.8" height="26.7" fill="#fff" stroke="#d0d0d0" stroke-width="0.7"/>
<rect x="108.2" y="887.5" width="6.7" height="26.3" fill="#000"/>
<rect x="114.9" y="887.5" width="1.3" height="26.3" fill="#888"/>
<rect x="116.2" y="887.5" width="1.4" height="26.3" fill="#555"/>
<rect x="117.6" y="887.5" width="1.3" height="26.3" fill="#888"/>
<rect x="118.9" y="887.5" width="1.8" height="26.3" fill="#444"/>
<rect x="120.7" y="887.5" width="2.2" height="26.3" fill="#777"/>
<rect x="122.9" y="887.5" width="0.9" height="26.3" fill="#ccc"/>
<rect x="123.8" y="887.5" width="1.3" height="26.3" fill="#000"/>
<rect x="127.3" y="887.5" width="1.6" height="26.3" fill="#000"/>
<rect x="130" y="887.5" width="3.6" height="26.3" fill="#000"/>
<rect x="133.6" y="887.5" width="1.3" height="26.3" fill="#888"/>
<rect x="134.9" y="887.5" width="1.8" height="26.3" fill="#333"/>
<rect x="136.7" y="887.5" width="1.3" height="26.3" fill="#999"/>
<rect x="138" y="887.5" width="1.8" height="26.3" fill="#444"/>
<rect x="140.5" y="887.5" width="1.9" height="26.3" fill="#ddd"/>
<rect x="142.4" y="887.5" width="1.4" height="26.3" fill="#888"/>
<rect x="143.8" y="887.5" width="3.5" height="26.3" fill="#111"/>
<rect x="147.3" y="887.5" width="2.3" height="26.3" fill="#777"/>
<rect x="151.3" y="887.5" width="1.8" height="26.3" fill="#000"/>
<rect x="153.1" y="887.5" width="2.7" height="26.3" fill="#aaa"/>
<rect x="155.8" y="887.5" width="2.6" height="26.3" fill="#333"/>
<rect x="158.4" y="887.5" width="1.8" height="26.3" fill="#888"/>
<rect x="160.2" y="887.5" width="1.4" height="26.3" fill="#444"/>
<rect x="161.8" y="887.5" width="0.9" height="26.3" fill="#999"/>
<rect x="166.9" y="887.5" width="0.9" height="26.3" fill="#999"/>
<rect x="169.6" y="887.5" width="1.5" height="26.3" fill="#444"/>
<rect x="173.3" y="887.5" width="1.6" height="26.3" fill="#333"/>
<rect x="177.3" y="887.5" width="1.4" height="26.3" fill="#999"/>
<rect x="189.3" y="887.5" width="1.4" height="26.3" fill="#999"/>
<rect x="192.2" y="887.5" width="1.6" height="26.3" fill="#444"/>
<rect x="195.6" y="887.5" width="1.6" height="26.3" fill="#666"/>
<rect x="199.6" y="887.5" width="1.3" height="26.3" fill="#999"/>
<rect x="205.2" y="887.5" width="1" height="26.3" fill="#999"/>
<rect x="208.4" y="887.5" width="1.4" height="26.3" fill="#999"/>
<rect x="211.1" y="887.5" width="0.9" height="26.3" fill="#777"/>
<rect x="218.7" y="887.5" width="1.3" height="26.3" fill="#999"/>
<rect x="222.8" y="887.5" width="1.2" height="26.3" fill="#999"/>
<rect x="224.2" y="887.5" width="1.2" height="26.3" fill="#888"/>
<rect x="225.6" y="887.5" width="1" height="26.3" fill="#aaa"/>
<rect x="229.3" y="887.5" width="1.2" height="26.3" fill="#444"/>
<rect x="232.2" y="887.5" width="1" height="26.3" fill="#999"/>
<rect x="239" y="887.5" width="1.2" height="26.3" fill="#555"/>
<rect x="244.4" y="887.5" width="1" height="26.3" fill="#888"/>
<rect x="254.2" y="887.5" width="1" height="26.3" fill="#888"/>
<rect x="268" y="887.5" width="1" height="26.3" fill="#888"/>
<rect x="272.1" y="887.5" width="1" height="26.3" fill="#999"/>
<rect x="274" y="887.5" width="1" height="26.3" fill="#888"/>
<rect x="275.5" y="887.5" width="1" height="26.3" fill="#999"/>
<rect x="282.7" y="887.5" width="1" height="26.3" fill="#888"/>
<rect x="287.3" y="887.5" width="1" height="26.3" fill="#888"/>
<rect x="294" y="887.5" width="1" height="26.3" fill="#777"/>
<rect x="108.2" y="913.8" width="17.8" height="6.7" fill="#d42c2c"/>
<rect x="126" y="913.8" width="14" height="6.7" fill="#e03c44"/>
<rect x="140" y="913.8" width="12" height="6.7" fill="#e84c58"/>
<rect x="152" y="913.8" width="8" height="6.7" fill="#ee5e68"/>
<rect x="160" y="913.8" width="7.1" height="6.7" fill="#f07c84"/>
<rect x="167.1" y="913.8" width="21.3" height="6.7" fill="#f0aadc"/>
<rect x="188.4" y="913.8" width="16.6" height="6.7" fill="#ccccf8"/>
<rect x="205" y="913.8" width="23.5" height="6.7" fill="#c2c2f6"/>
<rect x="228.5" y="913.8" width="19.5" height="6.7" fill="#8a8af0"/>
<rect x="248" y="913.8" width="17" height="6.7" fill="#5c50ea"/>
<rect x="265" y="913.8" width="16" height="6.7" fill="#5448e4"/>
<rect x="281" y="913.8" width="10" height="6.7" fill="#1c10d8"/>
<rect x="291" y="913.8" width="6.2" height="6.7" fill="#3410a8"/>
<line x1="108.2" y1="920.5" x2="306" y2="920.5" stroke="#c8c8c8" stroke-width="0.8"/>
<line x1="108.2" y1="924.25" x2="306" y2="924.25" stroke="#efefef" stroke-width="0.8"/>
<text x="104.6" y="926.05" font-family="Liberation Sans, sans-serif" font-size="4.9" font-weight="normal" text-anchor="end" fill="#333">0.75</text>
<line x1="108.2" y1="933.5" x2="306" y2="933.5" stroke="#efefef" stroke-width="0.8"/>
<text x="104.6" y="935.3" font-family="Liberation Sans, sans-serif" font-size="4.9" font-weight="normal" text-anchor="end" fill="#333">0.50</text>
<line x1="108.2" y1="942.75" x2="306" y2="942.75" stroke="#efefef" stroke-width="0.8"/>
<text x="104.6" y="944.55" font-family="Liberation Sans, sans-serif" font-size="4.9" font-weight="normal" text-anchor="end" fill="#333">0.25</text>
<line x1="108.2" y1="952" x2="306" y2="952" stroke="#efefef" stroke-width="0.8"/>
<text x="104.6" y="953.8" font-family="Liberation Sans, sans-serif" font-size="4.9" font-weight="normal" text-anchor="end" fill="#333">0.00</text>
<line x1="108.2" y1="961.25" x2="306" y2="961.25" stroke="#efefef" stroke-width="0.8"/>
<text x="104.6" y="963.05" font-family="Liberation Sans, sans-serif" font-size="4.9" font-weight="normal" text-anchor="end" fill="#333">-0.25</text>
<line x1="108.2" y1="970.5" x2="306" y2="970.5" stroke="#efefef" stroke-width="0.8"/>
<text x="104.6" y="972.3" font-family="Liberation Sans, sans-serif" font-size="4.9" font-weight="normal" text-anchor="end" fill="#333">-0.50</text>
<polygon points="108.3,952 108.3,923.3 108.7,928 109.3,932 111.3,935.3 116.7,938 123.3,940.7 132.7,943.3 146,946.7 159.3,949 170,950.4 180,951.3 190,952 208.5,953 236.3,955.7 264,959.4 282.6,962.8 290,965.9 294.6,970.2 296.6,974.5 297.3,976 297.3,952" fill="#c4c4c4"/>
<line x1="108.2" y1="952" x2="306" y2="952" stroke="#9a9a9a" stroke-width="0.6"/>
<line x1="187.5" y1="920.5" x2="187.5" y2="976.1" stroke="#b4b4b4" stroke-width="0.7" stroke-dasharray="1.5,1.5"/>
<rect x="108.2" y="920.5" width="197.8" height="55.6" fill="none" stroke="#b8b8b8" stroke-width="0.8"/>
<line x1="108.2" y1="802.2" x2="108.2" y2="976.1" stroke="#9a9a9a" stroke-width="0.8"/>
<text x="109.7" y="925.6" font-family="Liberation Sans, sans-serif" font-size="5.2" font-weight="normal" text-anchor="start" fill="#e00000" textLength="76.9" lengthAdjust="spacingAndGlyphs">'MetFET_pos' (positively correlated)</text>
<text x="207.6" y="975.3" font-family="Liberation Sans, sans-serif" font-size="5.2" font-weight="normal" text-anchor="start" fill="#2020e0" textLength="80.5" lengthAdjust="spacingAndGlyphs">'MetFET_neg' (negatively correlated)</text>
<text x="169.4" y="951.2" font-family="Liberation Sans, sans-serif" font-size="5.2" font-weight="normal" text-anchor="start" fill="#111" textLength="36.3" lengthAdjust="spacingAndGlyphs">Zero cross at 8874</text>
<text x="108.2" y="983.8" font-family="Liberation Sans, sans-serif" font-size="5" font-weight="normal" text-anchor="middle" fill="#333">0</text>
<text x="131.2" y="983.8" font-family="Liberation Sans, sans-serif" font-size="5" font-weight="normal" text-anchor="middle" fill="#333">2,500</text>
<text x="154.2" y="983.8" font-family="Liberation Sans, sans-serif" font-size="5" font-weight="normal" text-anchor="middle" fill="#333">5,000</text>
<text x="177.2" y="983.8" font-family="Liberation Sans, sans-serif" font-size="5" font-weight="normal" text-anchor="middle" fill="#333">7,500</text>
<text x="200.2" y="983.8" font-family="Liberation Sans, sans-serif" font-size="5" font-weight="normal" text-anchor="middle" fill="#333">10,000</text>
<text x="223.2" y="983.8" font-family="Liberation Sans, sans-serif" font-size="5" font-weight="normal" text-anchor="middle" fill="#333">12,500</text>
<text x="246.2" y="983.8" font-family="Liberation Sans, sans-serif" font-size="5" font-weight="normal" text-anchor="middle" fill="#333">15,000</text>
<text x="269.2" y="983.8" font-family="Liberation Sans, sans-serif" font-size="5" font-weight="normal" text-anchor="middle" fill="#333">17,500</text>
<text x="292.2" y="983.8" font-family="Liberation Sans, sans-serif" font-size="5" font-weight="normal" text-anchor="middle" fill="#333">20,000</text>
<text x="176.1" y="991.9" font-family="Liberation Sans, sans-serif" font-size="6.6" font-weight="normal" text-anchor="start" fill="#222" textLength="63.8" lengthAdjust="spacingAndGlyphs">Rank in Ordered Dataset</text>
<text transform="translate(94.4,843.4) rotate(-90)" font-family="Liberation Sans, sans-serif" font-size="6" fill="#333" text-anchor="middle" textLength="58.8" lengthAdjust="spacingAndGlyphs">Enrichment score (ES)</text>
<text transform="translate(90.3,948.5) rotate(-90)" font-family="Liberation Sans, sans-serif" font-size="6" fill="#333" text-anchor="middle" textLength="72" lengthAdjust="spacingAndGlyphs">Ranked list metric (Pearson)</text>
<text x="161" y="787.4" font-family="Liberation Sans, sans-serif" font-size="9.4" font-weight="bold" text-anchor="start" fill="#111" textLength="66.5" lengthAdjust="spacingAndGlyphs">Enrichment plot:</text>
<text x="83.3" y="797.8" font-family="Liberation Sans, sans-serif" font-size="9" font-weight="bold" text-anchor="start" fill="#111" textLength="224.7" lengthAdjust="spacingAndGlyphs">HALLMARK_EPITHELIAL_MESENCHYMAL_TRANSITION</text>
<rect x="115.9" y="997.7" width="157.3" height="9.6" fill="#fff" stroke="#555" stroke-width="0.9"/>
<line x1="117.9" y1="1002.5" x2="124.5" y2="1002.5" stroke="#22dd22" stroke-width="1.4"/>
<text x="125.9" y="1004.6" font-family="Liberation Sans, sans-serif" font-size="6.2" font-weight="normal" text-anchor="start" fill="#222" textLength="45.9" lengthAdjust="spacingAndGlyphs">Enrichment profile</text>
<line x1="175.3" y1="1002.5" x2="179.9" y2="1002.5" stroke="#333" stroke-width="0.8"/>
<text x="182.5" y="1004.6" font-family="Liberation Sans, sans-serif" font-size="6.2" font-weight="normal" text-anchor="start" fill="#222" textLength="10.2" lengthAdjust="spacingAndGlyphs">Hits</text>
<line x1="196.7" y1="1002.5" x2="203.3" y2="1002.5" stroke="#ddd" stroke-width="0.8"/>
<line x1="206" y1="1002.5" x2="212.7" y2="1002.5" stroke="#ccc" stroke-width="0.8"/>
<text x="215.3" y="1004.6" font-family="Liberation Sans, sans-serif" font-size="6.2" font-weight="normal" text-anchor="start" fill="#222" textLength="56.8" lengthAdjust="spacingAndGlyphs">Ranking metric scores</text>
<rect x="377.9" y="775.6" width="229.9" height="229.8" fill="#eae7d7"/>
<rect x="406.4" y="812.2" width="198.4" height="162.8" fill="#ffffff"/>
<line x1="429.61" y1="812.2" x2="429.61" y2="888.4" stroke="#efefef" stroke-width="0.8"/>
<line x1="429.61" y1="921.6" x2="429.61" y2="975" stroke="#efefef" stroke-width="0.8"/>
<line x1="452.82" y1="812.2" x2="452.82" y2="888.4" stroke="#efefef" stroke-width="0.8"/>
<line x1="452.82" y1="921.6" x2="452.82" y2="975" stroke="#efefef" stroke-width="0.8"/>
<line x1="476.04" y1="812.2" x2="476.04" y2="888.4" stroke="#efefef" stroke-width="0.8"/>
<line x1="476.04" y1="921.6" x2="476.04" y2="975" stroke="#efefef" stroke-width="0.8"/>
<line x1="499.25" y1="812.2" x2="499.25" y2="888.4" stroke="#efefef" stroke-width="0.8"/>
<line x1="499.25" y1="921.6" x2="499.25" y2="975" stroke="#efefef" stroke-width="0.8"/>
<line x1="522.46" y1="812.2" x2="522.46" y2="888.4" stroke="#efefef" stroke-width="0.8"/>
<line x1="522.46" y1="921.6" x2="522.46" y2="975" stroke="#efefef" stroke-width="0.8"/>
<line x1="545.67" y1="812.2" x2="545.67" y2="888.4" stroke="#efefef" stroke-width="0.8"/>
<line x1="545.67" y1="921.6" x2="545.67" y2="975" stroke="#efefef" stroke-width="0.8"/>
<line x1="568.89" y1="812.2" x2="568.89" y2="888.4" stroke="#efefef" stroke-width="0.8"/>
<line x1="568.89" y1="921.6" x2="568.89" y2="975" stroke="#efefef" stroke-width="0.8"/>
<line x1="592.1" y1="812.2" x2="592.1" y2="888.4" stroke="#efefef" stroke-width="0.8"/>
<line x1="592.1" y1="921.6" x2="592.1" y2="975" stroke="#efefef" stroke-width="0.8"/>
<line x1="406.4" y1="813.2" x2="604.8" y2="813.2" stroke="#efefef" stroke-width="0.8"/>
<text x="402.4" y="815" font-family="Liberation Sans, sans-serif" font-size="4.9" font-weight="normal" text-anchor="end" fill="#333">0.0</text>
<line x1="406.4" y1="827.88" x2="604.8" y2="827.88" stroke="#efefef" stroke-width="0.8"/>
<text x="402.4" y="829.68" font-family="Liberation Sans, sans-serif" font-size="4.9" font-weight="normal" text-anchor="end" fill="#333">-0.1</text>
<line x1="406.4" y1="842.56" x2="604.8" y2="842.56" stroke="#efefef" stroke-width="0.8"/>
<text x="402.4" y="844.36" font-family="Liberation Sans, sans-serif" font-size="4.9" font-weight="normal" text-anchor="end" fill="#333">-0.2</text>
<line x1="406.4" y1="857.24" x2="604.8" y2="857.24" stroke="#efefef" stroke-width="0.8"/>
<text x="402.4" y="859.04" font-family="Liberation Sans, sans-serif" font-size="4.9" font-weight="normal" text-anchor="end" fill="#333">-0.3</text>
<line x1="406.4" y1="871.92" x2="604.8" y2="871.92" stroke="#efefef" stroke-width="0.8"/>
<text x="402.4" y="873.72" font-family="Liberation Sans, sans-serif" font-size="4.9" font-weight="normal" text-anchor="end" fill="#333">-0.4</text>
<line x1="406.4" y1="886.6" x2="604.8" y2="886.6" stroke="#efefef" stroke-width="0.8"/>
<text x="402.4" y="888.4" font-family="Liberation Sans, sans-serif" font-size="4.9" font-weight="normal" text-anchor="end" fill="#333">-0.5</text>
<line x1="406.4" y1="813.2" x2="604.8" y2="813.2" stroke="#9a9a9a" stroke-width="0.9"/>
<rect x="406.4" y="812.2" width="198.4" height="76.2" fill="none" stroke="#d0d0d0" stroke-width="0.7"/>
<polyline points="406.2,813.2 410,816.5 414.3,819 415.8,814.2 419.1,817 423,813.8 426,816.5 428.7,818 431.2,816.1 435.5,817.4 440,820.5 443.2,822.8 447,824 450.9,825.7 455,827 458.6,829 462,831.5 466.3,834.4 472,838.5 477.9,843 484,848 490,852.5 500,858 509.3,864.2 520,870 530,875.5 538.2,879.6 544,881.5 548,882.2 552,884 556.4,884.5 560,882.5 563,883.2 566,882.6 568,879 571,876.5 574,872 578.6,867.1 581,866 584,864.5 586,865 588.2,863.3 590,858 591,856 592,851.7 593,843 594,832.4 594.8,822 595.5,812.2" fill="none" stroke="#22e022" stroke-width="2.4" stroke-linejoin="round"/>
<rect x="406.4" y="889.3" width="198.4" height="26.3" fill="#fff" stroke="#d0d0d0" stroke-width="0.7"/>
<rect x="414.4" y="889.7" width="1.2" height="25.9" fill="#444"/>
<rect x="418.5" y="889.7" width="0.8" height="25.9" fill="#999"/>
<rect x="421.5" y="889.7" width="1.8" height="25.9" fill="#333"/>
<rect x="429.2" y="889.7" width="1.5" height="25.9" fill="#444"/>
<rect x="432.9" y="889.7" width="1.9" height="25.9" fill="#888"/>
<rect x="442.8" y="889.7" width="1.5" height="25.9" fill="#444"/>
<rect x="446.2" y="889.7" width="1.5" height="25.9" fill="#333"/>
<rect x="450.2" y="889.7" width="1.9" height="25.9" fill="#888"/>
<rect x="455.9" y="889.7" width="1.7" height="25.9" fill="#444"/>
<rect x="458.8" y="889.7" width="2.2" height="25.9" fill="#888"/>
<rect x="465.5" y="889.7" width="1.5" height="25.9" fill="#444"/>
<rect x="469.2" y="889.7" width="1.2" height="25.9" fill="#999"/>
<rect x="472.4" y="889.7" width="1.5" height="25.9" fill="#888"/>
<rect x="474.4" y="889.7" width="1.9" height="25.9" fill="#333"/>
<rect x="482.5" y="889.7" width="1.2" height="25.9" fill="#999"/>
<rect x="487" y="889.7" width="1.4" height="25.9" fill="#999"/>
<rect x="490" y="889.7" width="2.1" height="25.9" fill="#333"/>
<rect x="493.6" y="889.7" width="2.3" height="25.9" fill="#999"/>
<rect x="496.6" y="889.7" width="2.2" height="25.9" fill="#888"/>
<rect x="499.6" y="889.7" width="2.2" height="25.9" fill="#999"/>
<rect x="504.9" y="889.7" width="1.6" height="25.9" fill="#999"/>
<rect x="509.8" y="889.7" width="1.6" height="25.9" fill="#111"/>
<rect x="513" y="889.7" width="3.3" height="25.9" fill="#777"/>
<rect x="520.4" y="889.7" width="1.6" height="25.9" fill="#aaa"/>
<rect x="523.6" y="889.7" width="1.7" height="25.9" fill="#999"/>
<rect x="528" y="889.7" width="1.7" height="25.9" fill="#333"/>
<rect x="535" y="889.7" width="5.7" height="25.9" fill="#999"/>
<rect x="543.2" y="889.7" width="4.1" height="25.9" fill="#999"/>
<rect x="550.5" y="889.7" width="1.7" height="25.9" fill="#aaa"/>
<rect x="553.8" y="889.7" width="2.4" height="25.9" fill="#444"/>
<rect x="557.4" y="889.7" width="1.6" height="25.9" fill="#111"/>
<rect x="560.6" y="889.7" width="2.1" height="25.9" fill="#999"/>
<rect x="566.8" y="889.7" width="2.5" height="25.9" fill="#111"/>
<rect x="571.7" y="889.7" width="4.9" height="25.9" fill="#666"/>
<rect x="577.4" y="889.7" width="1.6" height="25.9" fill="#111"/>
<rect x="581.5" y="889.7" width="3.2" height="25.9" fill="#999"/>
<rect x="587.2" y="889.7" width="1.6" height="25.9" fill="#111"/>
<rect x="589.6" y="889.7" width="1.7" height="25.9" fill="#888"/>
<rect x="592.1" y="889.7" width="2.4" height="25.9" fill="#111"/>
<rect x="406.5" y="915.6" width="8.5" height="6" fill="#d82424"/>
<rect x="415" y="915.6" width="15" height="6" fill="#e23840"/>
<rect x="430" y="915.6" width="18" height="6" fill="#e84c58"/>
<rect x="448" y="915.6" width="10" height="6" fill="#ee6068"/>
<rect x="458" y="915.6" width="7" height="6" fill="#f07c84"/>
<rect x="465" y="915.6" width="22" height="6" fill="#f0b0e0"/>
<rect x="487" y="915.6" width="18" height="6" fill="#ccccf8"/>
<rect x="505" y="915.6" width="21.5" height="6" fill="#c2c2f6"/>
<rect x="526.5" y="915.6" width="19.5" height="6" fill="#8282f0"/>
<rect x="546" y="915.6" width="17" height="6" fill="#5c4cea"/>
<rect x="563" y="915.6" width="16" height="6" fill="#5448e4"/>
<rect x="579" y="915.6" width="11" height="6" fill="#2010d8"/>
<rect x="590" y="915.6" width="5.5" height="6" fill="#3a10a4"/>
<line x1="406.4" y1="921.6" x2="604.8" y2="921.6" stroke="#c8c8c8" stroke-width="0.8"/>
<line x1="406.4" y1="924.95" x2="604.8" y2="924.95" stroke="#efefef" stroke-width="0.8"/>
<text x="402.8" y="926.75" font-family="Liberation Sans, sans-serif" font-size="4.9" font-weight="normal" text-anchor="end" fill="#333">0.75</text>
<line x1="406.4" y1="933.6" x2="604.8" y2="933.6" stroke="#efefef" stroke-width="0.8"/>
<text x="402.8" y="935.4" font-family="Liberation Sans, sans-serif" font-size="4.9" font-weight="normal" text-anchor="end" fill="#333">0.50</text>
<line x1="406.4" y1="942.25" x2="604.8" y2="942.25" stroke="#efefef" stroke-width="0.8"/>
<text x="402.8" y="944.05" font-family="Liberation Sans, sans-serif" font-size="4.9" font-weight="normal" text-anchor="end" fill="#333">0.25</text>
<line x1="406.4" y1="950.9" x2="604.8" y2="950.9" stroke="#efefef" stroke-width="0.8"/>
<text x="402.8" y="952.7" font-family="Liberation Sans, sans-serif" font-size="4.9" font-weight="normal" text-anchor="end" fill="#333">0.00</text>
<line x1="406.4" y1="959.55" x2="604.8" y2="959.55" stroke="#efefef" stroke-width="0.8"/>
<text x="402.8" y="961.35" font-family="Liberation Sans, sans-serif" font-size="4.9" font-weight="normal" text-anchor="end" fill="#333">-0.25</text>
<line x1="406.4" y1="968.2" x2="604.8" y2="968.2" stroke="#efefef" stroke-width="0.8"/>
<text x="402.8" y="970" font-family="Liberation Sans, sans-serif" font-size="4.9" font-weight="normal" text-anchor="end" fill="#333">-0.50</text>
<polygon points="406.6,950.9 406.6,922.5 407,928 407.3,932.7 409.3,936 414.7,938.7 421.3,941.3 430.7,944 444,946.7 457.3,948.7 468,950 478,950.6 487,950.9 505,951.8 533,954.5 560,957.8 578,961 586,963.5 591,966.5 594,970 595.2,973.5 595.5,975 595.5,950.9" fill="#c4c4c4"/>
<line x1="406.4" y1="950.9" x2="604.8" y2="950.9" stroke="#9a9a9a" stroke-width="0.6"/>
<line x1="486.5" y1="921.6" x2="486.5" y2="975" stroke="#b4b4b4" stroke-width="0.7" stroke-dasharray="1.5,1.5"/>
<rect x="406.4" y="921.6" width="198.4" height="53.4" fill="none" stroke="#b8b8b8" stroke-width="0.8"/>
<line x1="406.4" y1="812.2" x2="406.4" y2="975" stroke="#9a9a9a" stroke-width="0.8"/>
<text x="407.8" y="926.8" font-family="Liberation Sans, sans-serif" font-size="5.2" font-weight="normal" text-anchor="start" fill="#e00000" textLength="77" lengthAdjust="spacingAndGlyphs">'MetFET_pos' (positively correlated)</text>
<text x="505" y="973.4" font-family="Liberation Sans, sans-serif" font-size="5.2" font-weight="normal" text-anchor="start" fill="#2020e0" textLength="81.3" lengthAdjust="spacingAndGlyphs">'MetFET_neg' (negatively correlated)</text>
<text x="467.5" y="950.3" font-family="Liberation Sans, sans-serif" font-size="5.2" font-weight="normal" text-anchor="start" fill="#111" textLength="36.3" lengthAdjust="spacingAndGlyphs">Zero cross at 8874</text>
<text x="406.4" y="982.2" font-family="Liberation Sans, sans-serif" font-size="5" font-weight="normal" text-anchor="middle" fill="#333">0</text>
<text x="429.61" y="982.2" font-family="Liberation Sans, sans-serif" font-size="5" font-weight="normal" text-anchor="middle" fill="#333">2,500</text>
<text x="452.82" y="982.2" font-family="Liberation Sans, sans-serif" font-size="5" font-weight="normal" text-anchor="middle" fill="#333">5,000</text>
<text x="476.04" y="982.2" font-family="Liberation Sans, sans-serif" font-size="5" font-weight="normal" text-anchor="middle" fill="#333">7,500</text>
<text x="499.25" y="982.2" font-family="Liberation Sans, sans-serif" font-size="5" font-weight="normal" text-anchor="middle" fill="#333">10,000</text>
<text x="522.46" y="982.2" font-family="Liberation Sans, sans-serif" font-size="5" font-weight="normal" text-anchor="middle" fill="#333">12,500</text>
<text x="545.67" y="982.2" font-family="Liberation Sans, sans-serif" font-size="5" font-weight="normal" text-anchor="middle" fill="#333">15,000</text>
<text x="568.89" y="982.2" font-family="Liberation Sans, sans-serif" font-size="5" font-weight="normal" text-anchor="middle" fill="#333">17,500</text>
<text x="592.1" y="982.2" font-family="Liberation Sans, sans-serif" font-size="5" font-weight="normal" text-anchor="middle" fill="#333">20,000</text>
<text x="474" y="989.6" font-family="Liberation Sans, sans-serif" font-size="6.6" font-weight="normal" text-anchor="start" fill="#222" textLength="63.8" lengthAdjust="spacingAndGlyphs">Rank in Ordered Dataset</text>
<text transform="translate(389,850) rotate(-90)" font-family="Liberation Sans, sans-serif" font-size="6" fill="#333" text-anchor="middle" textLength="58.8" lengthAdjust="spacingAndGlyphs">Enrichment score (ES)</text>
<text transform="translate(387,948.5) rotate(-90)" font-family="Liberation Sans, sans-serif" font-size="6" fill="#333" text-anchor="middle" textLength="72" lengthAdjust="spacingAndGlyphs">Ranked list metric (Pearson)</text>
<text x="459.2" y="784.4" font-family="Liberation Sans, sans-serif" font-size="9.4" font-weight="bold" text-anchor="start" fill="#111" textLength="65.8" lengthAdjust="spacingAndGlyphs">Enrichment plot:</text>
<text x="381.2" y="794.8" font-family="Liberation Sans, sans-serif" font-size="9" font-weight="bold" text-anchor="start" fill="#111" textLength="224.4" lengthAdjust="spacingAndGlyphs">KEGG_NATURAL_KILLER_CELL_MEDIATED_CYTOTOXI</text>
<text x="483.6" y="804.9" font-family="Liberation Sans, sans-serif" font-size="9" font-weight="bold" text-anchor="start" fill="#111" textLength="18.6" lengthAdjust="spacingAndGlyphs">CITY</text>
<rect x="414.3" y="995.2" width="158.5" height="9.6" fill="#fff" stroke="#555" stroke-width="0.9"/>
<line x1="416.3" y1="1000" x2="422.9" y2="1000" stroke="#22dd22" stroke-width="1.4"/>
<text x="424.3" y="1002.1" font-family="Liberation Sans, sans-serif" font-size="6.2" font-weight="normal" text-anchor="start" fill="#222" textLength="45.9" lengthAdjust="spacingAndGlyphs">Enrichment profile</text>
<line x1="473.7" y1="1000" x2="478.3" y2="1000" stroke="#333" stroke-width="0.8"/>
<text x="480.9" y="1002.1" font-family="Liberation Sans, sans-serif" font-size="6.2" font-weight="normal" text-anchor="start" fill="#222" textLength="10.2" lengthAdjust="spacingAndGlyphs">Hits</text>
<line x1="495.1" y1="1000" x2="501.7" y2="1000" stroke="#ddd" stroke-width="0.8"/>
<line x1="504.4" y1="1000" x2="511.1" y2="1000" stroke="#ccc" stroke-width="0.8"/>
<text x="513.7" y="1002.1" font-family="Liberation Sans, sans-serif" font-size="6.2" font-weight="normal" text-anchor="start" fill="#222" textLength="56.8" lengthAdjust="spacingAndGlyphs">Ranking metric scores</text>
</svg>
</body></html>
